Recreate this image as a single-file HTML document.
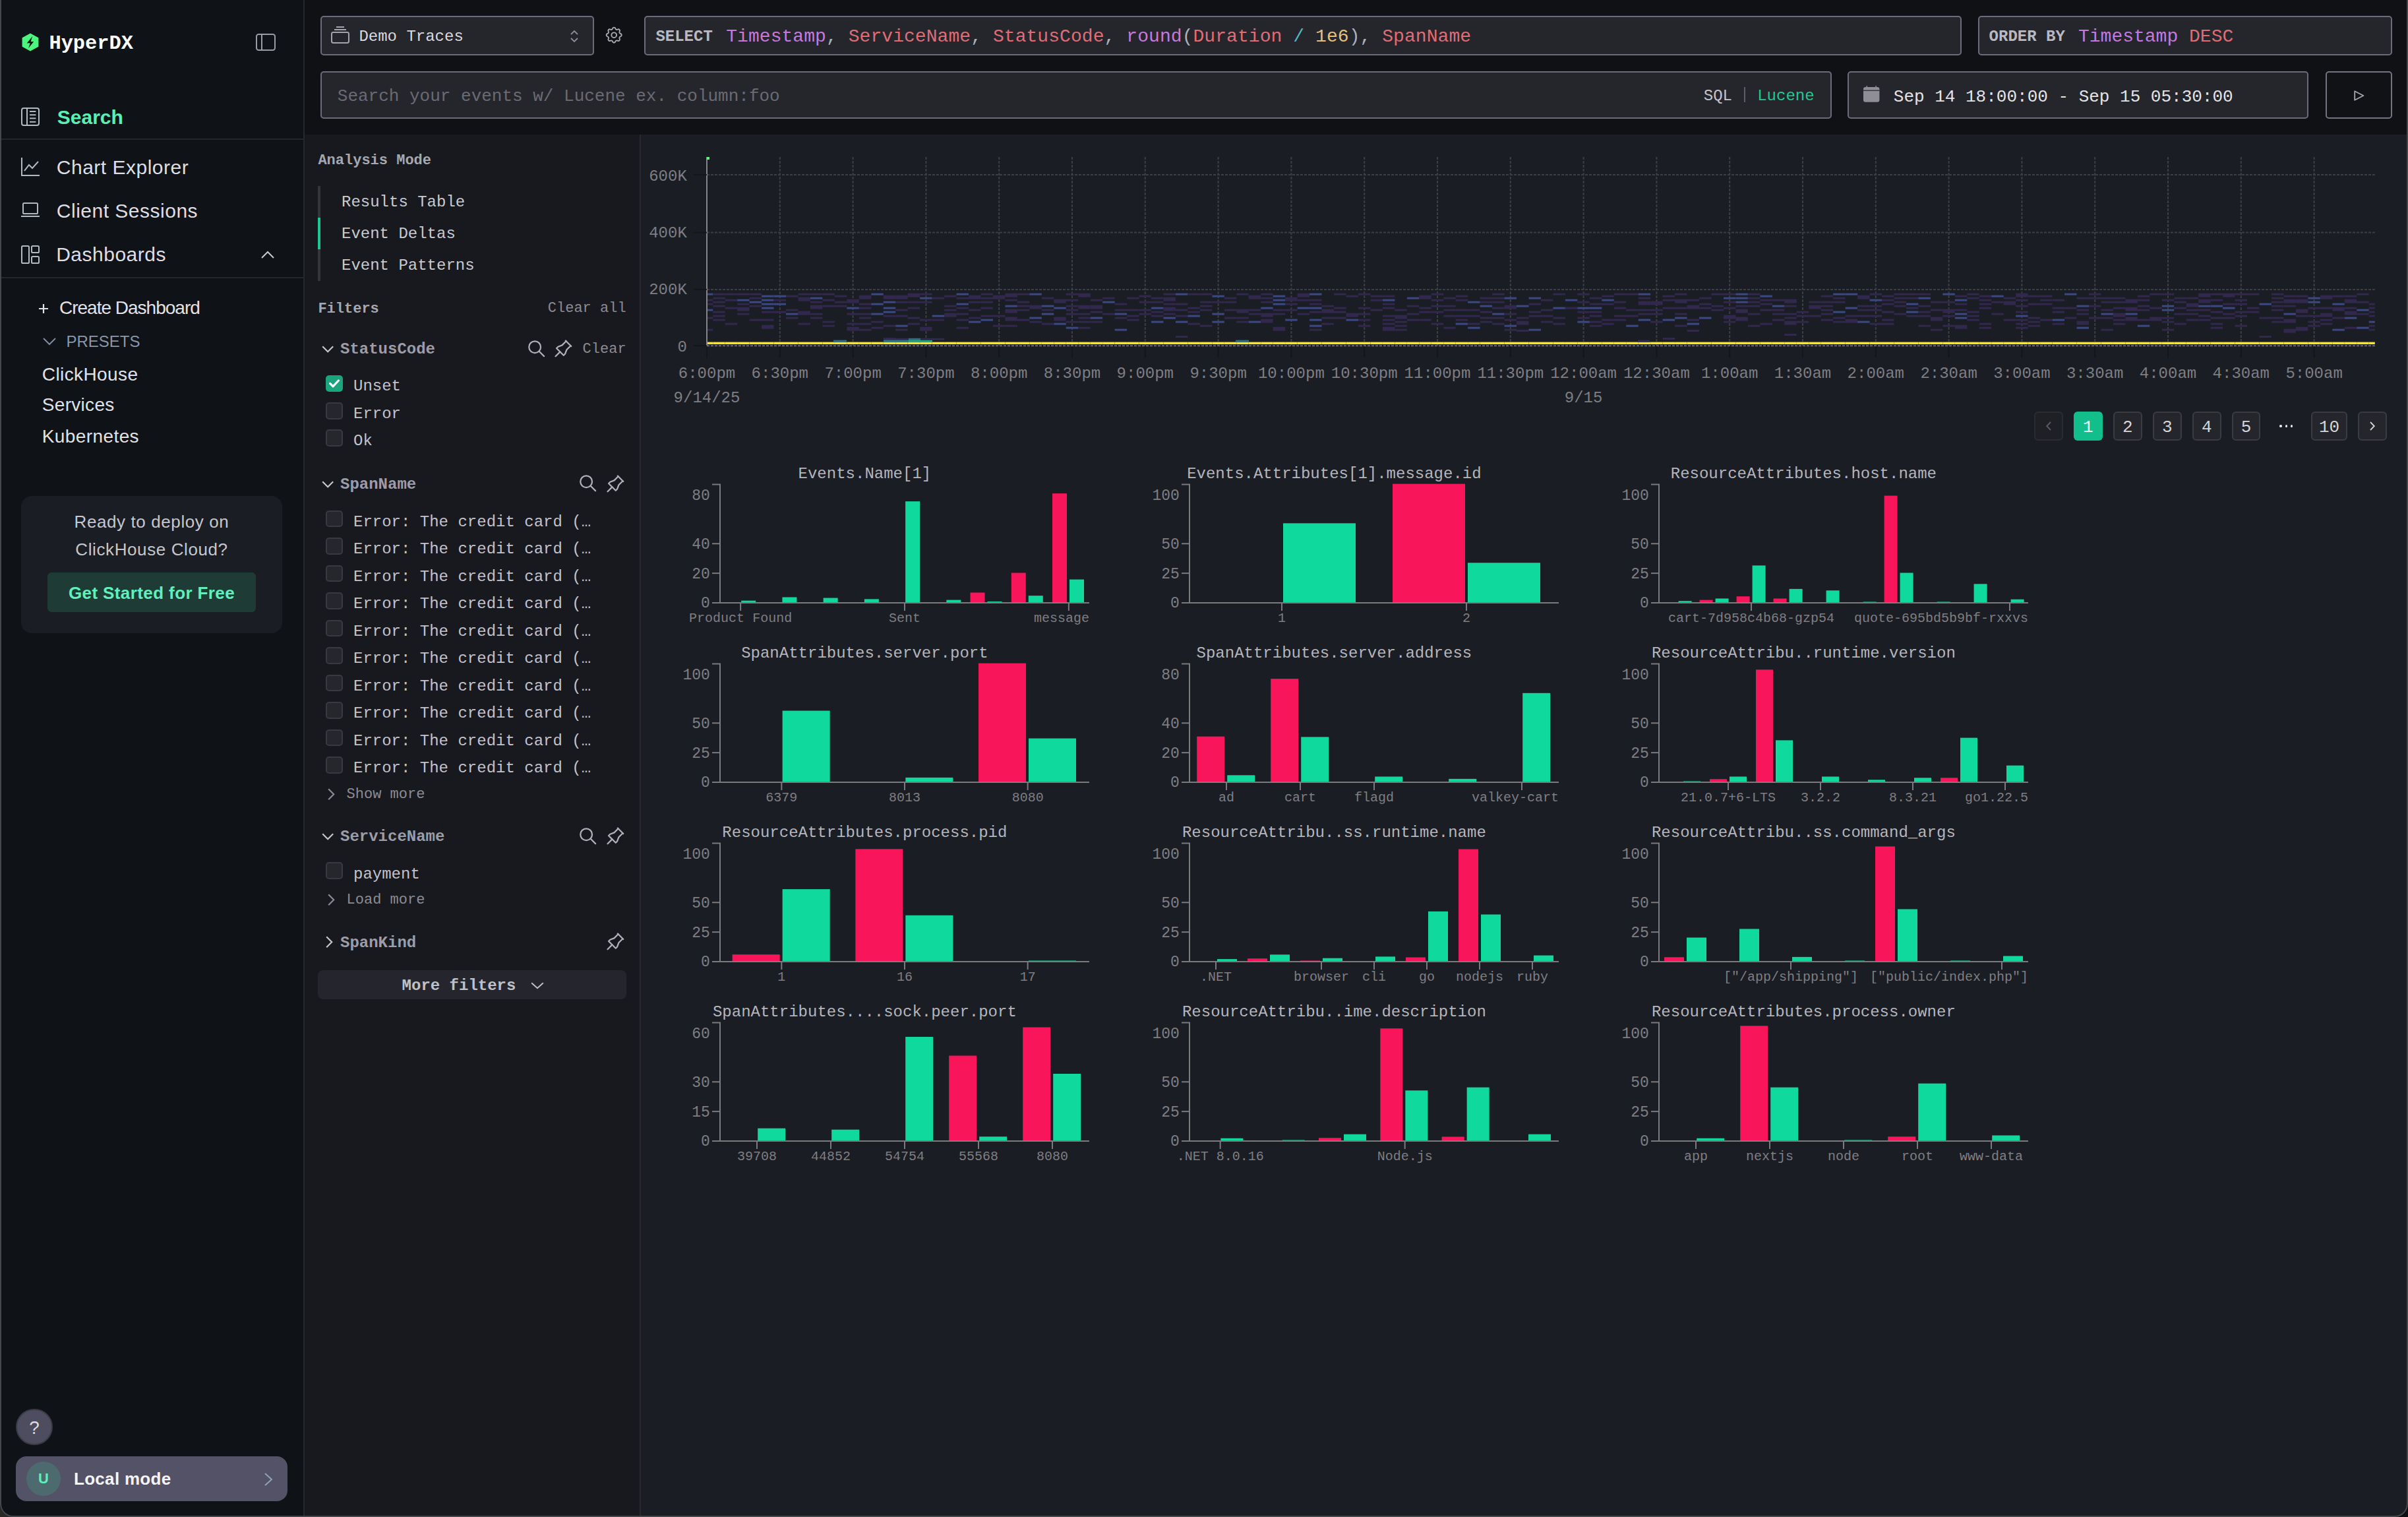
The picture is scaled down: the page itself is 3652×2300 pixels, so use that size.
<!DOCTYPE html>
<html><head><meta charset="utf-8"><title>HyperDX</title>
<style>
html,body{margin:0;padding:0;background:#0d0e11;}
body{overflow:hidden;}
@media (min-width:2400px){#root{zoom:2;}}
#root{position:relative;width:1826px;height:1150px;overflow:hidden;background:linear-gradient(to right,#2a2a25,#0e0f12);}
#win{position:absolute;left:0;top:0;width:1826px;height:1150px;overflow:hidden;border-radius:0 0 10px 10px;background:#1b1d24;}
#frame{position:absolute;left:0;top:-20px;width:1826px;height:1170px;box-sizing:border-box;border:1px solid #45474b;border-radius:10px;pointer-events:none;}
.t{position:absolute;white-space:pre;}
.b{position:absolute;box-sizing:border-box;}
svg.b{overflow:visible;}
</style></head><body><div id="root"><div id="win">

<div class="b" style="left:0.00px;top:0.00px;width:1826.00px;height:102.00px;background:#0f1115;"></div>
<div class="b" style="left:0.00px;top:0.00px;width:231.00px;height:1150.00px;background:#0f1217;"></div>
<div class="b" style="left:230.00px;top:0.00px;width:1.00px;height:1150.00px;background:#25282d;"></div>
<div class="b" style="left:231.00px;top:102.00px;width:254.00px;height:1048.00px;background:#18191e;"></div>
<div class="b" style="left:485.00px;top:102.00px;width:1.00px;height:1048.00px;background:#27292f;"></div>
<svg class="b" style="left:16.50px;top:25.00px;" width="13" height="14" viewBox="0 0 13 14"><path d="M6.5 0.2 L12.7 3.6 L12.7 10.4 L6.5 13.8 L0.3 10.4 L0.3 3.6 Z" fill="#4cf57d"/><path d="M8.1 2.5 L3.9 7.8 L6.4 7.6 L5.1 11.5 L9.1 6.5 L6.8 6.6 Z" fill="#0c0e10"/></svg>
<div class="t" style="top:22.25px;font:700 15.2px/21.28px 'Liberation Mono', monospace;color:#ffffff;left:37.20px;">HyperDX</div>
<svg class="b" style="left:194.00px;top:25.50px;" width="15" height="13" viewBox="0 0 15 13"><rect x="0.5" y="0.5" width="14" height="12" rx="1.6" fill="none" stroke="#9a9ba3" stroke-width="1"/><line x1="4.5" y1="0.5" x2="4.5" y2="12.5" stroke="#9a9ba3" stroke-width="1"/></svg>
<svg class="b" style="left:16.00px;top:81.50px;" width="14" height="14" viewBox="0 0 14 14"><rect x="0.5" y="0.5" width="13" height="13" rx="1.5" fill="none" stroke="#b4b8c3" stroke-width="1"/><line x1="4.5" y1="0.5" x2="4.5" y2="13.5" stroke="#b4b8c3"/><g stroke="#b4b8c3" stroke-width="1"><line x1="6.5" y1="3" x2="11.2" y2="3"/><line x1="6.5" y1="5.6" x2="11.2" y2="5.6"/><line x1="6.5" y1="8.2" x2="11.2" y2="8.2"/><line x1="6.5" y1="10.9" x2="11.2" y2="10.9"/></g></svg>
<div class="t" style="top:78.28px;font:700 15px/21.0px 'Liberation Sans', sans-serif;color:#5af0b5;left:43.40px;">Search</div>
<div class="b" style="left:1.00px;top:105.00px;width:229.00px;height:1.00px;background:#24272c;"></div>
<svg class="b" style="left:16.00px;top:119.50px;" width="14" height="14" viewBox="0 0 14 14"><path d="M0.5 0 V13.5 H14" fill="none" stroke="#b4b8c3" stroke-width="1"/><path d="M2.5 10 L6 5.5 L8.5 8 L13 3" fill="none" stroke="#b4b8c3" stroke-width="1"/></svg>
<div class="t" style="top:116.48px;font:400 15px/21.0px 'Liberation Sans', sans-serif;color:#dedee3;left:42.90px;letter-spacing:0.25px;">Chart Explorer</div>
<svg class="b" style="left:16.00px;top:153.50px;" width="14" height="12" viewBox="0 0 14 12"><rect x="1.5" y="0.5" width="11" height="8" rx="0.8" fill="none" stroke="#b4b8c3"/><line x1="0" y1="10.5" x2="14" y2="10.5" stroke="#b4b8c3"/></svg>
<div class="t" style="top:149.38px;font:400 15px/21.0px 'Liberation Sans', sans-serif;color:#dedee3;left:42.90px;letter-spacing:0.25px;">Client Sessions</div>
<svg class="b" style="left:16.00px;top:186.00px;" width="14" height="14" viewBox="0 0 14 14"><rect x="0.5" y="0.5" width="5.5" height="13" rx="0.8" fill="none" stroke="#b4b8c3"/><rect x="8" y="0.5" width="5.5" height="5" rx="0.8" fill="none" stroke="#b4b8c3"/><rect x="8" y="8.5" width="5.5" height="5" rx="0.8" fill="none" stroke="#b4b8c3"/></svg>
<div class="t" style="top:182.58px;font:400 15px/21.0px 'Liberation Sans', sans-serif;color:#dedee3;left:42.60px;letter-spacing:0.25px;">Dashboards</div>
<svg class="b" style="left:198.00px;top:190.00px;" width="10" height="6" viewBox="0 0 10 6"><path d="M0.5 5.5 L5 1 L9.5 5.5" fill="none" stroke="#c9cad0" stroke-width="1"/></svg>
<div class="b" style="left:1.00px;top:210.00px;width:229.00px;height:1.00px;background:#24272c;"></div>
<svg class="b" style="left:29.50px;top:230.50px;" width="7" height="7" viewBox="0 0 7 7"><path d="M3.5 0 V7 M0 3.5 H7" stroke="#e2e2e6" stroke-width="1.1"/></svg>
<div class="t" style="top:223.67px;font:400 14px/19.6px 'Liberation Sans', sans-serif;color:#e2e2e6;left:45.00px;letter-spacing:-0.5px;">Create Dashboard</div>
<svg class="b" style="left:32.50px;top:256.00px;" width="10" height="6" viewBox="0 0 10 6"><path d="M0.5 0.5 L5 5 L9.5 0.5" fill="none" stroke="#7f8ba0" stroke-width="1"/></svg>
<div class="t" style="top:250.74px;font:400 12px/16.8px 'Liberation Sans', sans-serif;color:#8a96ab;left:50.20px;letter-spacing:0px;">PRESETS</div>
<div class="t" style="top:273.77px;font:400 14px/19.6px 'Liberation Sans', sans-serif;color:#e2e2e6;left:31.90px;letter-spacing:0.2px;">ClickHouse</div>
<div class="t" style="top:297.17px;font:400 14px/19.6px 'Liberation Sans', sans-serif;color:#e2e2e6;left:31.90px;letter-spacing:0.15px;">Services</div>
<div class="t" style="top:320.97px;font:400 14px/19.6px 'Liberation Sans', sans-serif;color:#e2e2e6;left:31.90px;letter-spacing:0.2px;">Kubernetes</div>
<div class="b" style="left:16.00px;top:376.00px;width:198.00px;height:104.00px;background:#1b1d24;border-radius:8px;"></div>
<div class="t" style="top:386.66px;font:400 13px/18.2px 'Liberation Sans', sans-serif;color:#c5c7cf;left:-185.00px;width:600px;text-align:center;letter-spacing:0.3px;">Ready to deploy on</div>
<div class="t" style="top:407.36px;font:400 13px/18.2px 'Liberation Sans', sans-serif;color:#c5c7cf;left:-185.00px;width:600px;text-align:center;letter-spacing:0.3px;">ClickHouse Cloud?</div>
<div class="b" style="left:36.00px;top:434.00px;width:158.00px;height:30.00px;background:#1f3b35;border-radius:3px;"></div>
<div class="t" style="top:440.26px;font:700 13px/18.2px 'Liberation Sans', sans-serif;color:#5ff0bd;left:-185.00px;width:600px;text-align:center;letter-spacing:0.2px;">Get Started for Free</div>
<div class="b" style="left:12.20px;top:1068.00px;width:27.60px;height:27.60px;background:#4e4d60;border:1px solid #3a3a45;border-radius:50%;"></div>
<div class="t" style="top:1072.67px;font:400 14px/19.6px 'Liberation Sans', sans-serif;color:#dcdce6;left:-274.00px;width:600px;text-align:center;">?</div>
<div class="b" style="left:12.00px;top:1104.00px;width:206.00px;height:34.00px;background:#545266;border-radius:8px;"></div>
<div class="b" style="left:20.00px;top:1108.00px;width:26.00px;height:26.00px;background:#4d6a6f;border-radius:50%;"></div>
<div class="t" style="top:1113.43px;font:700 11px/15.4px 'Liberation Sans', sans-serif;color:#5df0bf;left:-267.00px;width:600px;text-align:center;">U</div>
<div class="t" style="top:1112.06px;font:700 13px/18.2px 'Liberation Sans', sans-serif;color:#f4f4f6;left:56.00px;letter-spacing:0.15px;">Local mode</div>
<svg class="b" style="left:200.50px;top:1116.50px;" width="6" height="10" viewBox="0 0 6 10"><path d="M0.5 0.5 L5.5 5 L0.5 9.5" fill="none" stroke="#8fa3b8" stroke-width="1"/></svg>
<div class="b" style="left:243.20px;top:12.20px;width:207.20px;height:29.60px;background:#25262c;border:1px solid #6c6a7b;border-radius:2.5px;"></div>
<svg class="b" style="left:251.00px;top:20.00px;" width="14" height="13" viewBox="0 0 14 13"><rect x="0.5" y="4.5" width="13" height="8" rx="1.2" fill="none" stroke="#a4a4ad"/><line x1="2.5" y1="2.5" x2="11.5" y2="2.5" stroke="#a4a4ad"/><line x1="4" y1="0.5" x2="10" y2="0.5" stroke="#a4a4ad"/></svg>
<div class="t" style="top:19.38px;font:400 12px/16.8px 'Liberation Mono', monospace;color:#d9d9de;left:272.20px;">Demo Traces</div>
<svg class="b" style="left:432.50px;top:23.00px;" width="6" height="9" viewBox="0 0 6 9"><path d="M0.5 3 L3 0.5 L5.5 3 M0.5 6 L3 8.5 L5.5 6" fill="none" stroke="#8d8d96" stroke-width="0.9"/></svg>
<svg class="b" style="left:459.30px;top:20.50px;" width="12.2" height="12.2" viewBox="2.5 2.5 19 19"><path d="M10.325 4.317c.426-1.756 2.924-1.756 3.35 0a1.724 1.724 0 0 0 2.573 1.066c1.543-.94 3.31.826 2.37 2.37a1.724 1.724 0 0 0 1.065 2.572c1.756.426 1.756 2.924 0 3.35a1.724 1.724 0 0 0-1.066 2.573c.94 1.543-.826 3.31-2.37 2.37a1.724 1.724 0 0 0-2.572 1.065c-.426 1.756-2.924 1.756-3.35 0a1.724 1.724 0 0 0-2.573-1.066c-1.543.94-3.31-.826-2.37-2.37a1.724 1.724 0 0 0-1.065-2.572c-1.756-.426-1.756-2.924 0-3.35a1.724 1.724 0 0 0 1.066-2.573c-.94-1.543.826-3.31 2.37-2.37c1 .608 2.296.07 2.572-1.065z" fill="none" stroke="#a9a9b2" stroke-width="1.5"/><circle cx="12" cy="12" r="3" fill="none" stroke="#a9a9b2" stroke-width="1.5"/></svg>
<div class="b" style="left:488.70px;top:12.00px;width:998.90px;height:30.00px;background:#25262c;border:1px solid #6c6a7b;border-radius:2.5px;"></div>
<div class="t" style="top:19.38px;font:700 12px/16.8px 'Liberation Mono', monospace;color:#b9b9c1;left:497.20px;">SELECT</div>
<div class="t" style="top:18.11px;font:400 14px/19.6px 'Liberation Mono', monospace;color:#abb2bf;left:550.60px;letter-spacing:0.03px;"><span style="color:#c678dd">Timestamp</span><span style="color:#abb2bf">, </span><span style="color:#e06c75">ServiceName</span><span style="color:#abb2bf">, </span><span style="color:#e06c75">StatusCode</span><span style="color:#abb2bf">, </span><span style="color:#c678dd">round</span><span style="color:#abb2bf">(</span><span style="color:#e06c75">Duration</span><span style="color:#abb2bf"> </span><span style="color:#56b6c2">/</span><span style="color:#abb2bf"> </span><span style="color:#e5c07b">1e6</span><span style="color:#abb2bf">)</span><span style="color:#abb2bf">, </span><span style="color:#e06c75">SpanName</span></div>
<div class="b" style="left:1500.20px;top:12.00px;width:313.70px;height:30.00px;background:#25262c;border:1px solid #6c6a7b;border-radius:2.5px;"></div>
<div class="t" style="top:19.38px;font:700 12px/16.8px 'Liberation Mono', monospace;color:#b9b9c1;left:1508.30px;">ORDER BY</div>
<div class="t" style="top:18.11px;font:400 14px/19.6px 'Liberation Mono', monospace;color:#abb2bf;left:1576.00px;"><span style="color:#c678dd">Timestamp</span> <span style="color:#e06c75">DESC</span></div>
<div class="b" style="left:243.20px;top:54.20px;width:1145.60px;height:35.60px;background:#25262c;border:1px solid #6c6a7b;border-radius:2.5px;"></div>
<div class="t" style="top:64.05px;font:400 13px/18.2px 'Liberation Mono', monospace;color:#6a6a74;left:255.90px;">Search your events w/ Lucene ex. column:foo</div>
<div class="t" style="top:64.38px;font:400 12px/16.8px 'Liberation Mono', monospace;color:#c4c4cb;left:1291.90px;">SQL</div>
<div class="b" style="left:1322.60px;top:66.20px;width:1.00px;height:11.40px;background:#5d5d66;"></div>
<div class="t" style="top:64.38px;font:400 12px/16.8px 'Liberation Mono', monospace;color:#1fc993;left:1332.60px;">Lucene</div>
<div class="b" style="left:1401.20px;top:54.20px;width:349.50px;height:35.60px;background:#25262c;border:1px solid #6c6a7b;border-radius:2.5px;"></div>
<svg class="b" style="left:1412.90px;top:65.20px;" width="12.2" height="12.4" viewBox="0 0 12.2 12.4"><rect x="0" y="1" width="12.2" height="11.4" rx="1.6" fill="#8f8e97"/><rect x="2.3" y="0" width="0.7" height="1.6" fill="#8f8e97"/><rect x="9.2" y="0" width="0.7" height="1.6" fill="#8f8e97"/><rect x="0" y="3.3" width="12.2" height="0.6" fill="#25262c"/></svg>
<div class="t" style="top:64.25px;font:400 13px/18.2px 'Liberation Mono', monospace;color:#e4e4e8;left:1435.90px;">Sep 14 18:00:00 - Sep 15 05:30:00</div>
<div class="b" style="left:1763.40px;top:54.20px;width:50.50px;height:35.60px;background:#101216;border:1px solid #75737f;border-radius:2.5px;"></div>
<svg class="b" style="left:1784.80px;top:68.60px;" width="8" height="8" viewBox="0 0 8 8"><path d="M0.6 0.6 L7.2 4 L0.6 7.4 Z" fill="none" stroke="#a6a6ae" stroke-width="0.9" stroke-linejoin="round"/></svg>
<div class="t" style="top:114.42px;font:700 11px/15.4px 'Liberation Mono', monospace;color:#a7a7af;left:241.20px;">Analysis Mode</div>
<div class="b" style="left:241.20px;top:141.00px;width:1.90px;height:72.00px;background:#35363c;"></div>
<div class="b" style="left:241.20px;top:165.00px;width:1.90px;height:24.00px;background:#1bc891;"></div>
<div class="t" style="top:145.18px;font:400 12px/16.8px 'Liberation Mono', monospace;color:#c9c9d0;left:259.00px;">Results Table</div>
<div class="t" style="top:169.18px;font:400 12px/16.8px 'Liberation Mono', monospace;color:#c9c9d0;left:259.00px;">Event Deltas</div>
<div class="t" style="top:193.18px;font:400 12px/16.8px 'Liberation Mono', monospace;color:#c9c9d0;left:259.00px;">Event Patterns</div>
<div class="t" style="top:227.02px;font:700 11px/15.4px 'Liberation Mono', monospace;color:#a7a7af;left:241.20px;">Filters</div>
<div class="t" style="top:226.32px;font:400 11px/15.4px 'Liberation Mono', monospace;color:#8c8b94;right:1351.20px;">Clear all</div>
<svg class="b" style="left:243.80px;top:261.90px;" width="9.2" height="5.4" viewBox="0 0 9.2 5.4"><path d="M0.6 0.6 L4.6 4.6 L8.6 0.6" fill="none" stroke="#c7c7ce" stroke-width="1.1"/></svg>
<div class="t" style="top:256.68px;font:700 12px/16.8px 'Liberation Mono', monospace;color:#9d9ca9;left:258.00px;">StatusCode</div>
<svg class="b" style="left:400.60px;top:257.80px;" width="12.7" height="12.7" viewBox="2 2 20 20"><circle cx="10" cy="10" r="7" fill="none" stroke="#b0b0b8" stroke-width="1.75"/><path d="M21 21 L15 15" stroke="#b0b0b8" stroke-width="1.75" stroke-linecap="round"/></svg>
<svg class="b" style="left:420.70px;top:257.40px;" width="13.4" height="13.4" viewBox="3.5 3 17.5 17.5"><g fill="none" stroke="#b0b0b8" stroke-width="1.5" stroke-linecap="round" stroke-linejoin="round"><path d="M15 4.5l-4 4l-4 1.5l-1.5 1.5l7 7l1.5 -1.5l1.5 -4l4 -4"/><path d="M9 15l-4.5 4.5"/><path d="M14.5 4l5.5 5.5"/></g></svg>
<div class="t" style="top:257.31px;font:400 11px/15.4px 'Liberation Mono', monospace;color:#8c8b94;right:1351.20px;">Clear</div>
<div class="b" style="left:247.20px;top:284.30px;width:12.80px;height:12.80px;background:#1aa57c;border-radius:2.5px;"></div>
<svg class="b" style="left:249.60px;top:287.50px;" width="8" height="6.4" viewBox="0 0 8 6.4"><path d="M0.8 3.2 L3.0 5.4 L7.2 1.0" fill="none" stroke="#ffffff" stroke-width="1.6" stroke-linecap="round" stroke-linejoin="round"/></svg>
<div class="t" style="top:284.68px;font:400 12px/16.8px 'Liberation Mono', monospace;color:#c3c2cc;left:268.00px;">Unset</div>
<div class="b" style="left:247.20px;top:305.00px;width:12.80px;height:12.80px;background:#26272d;border:1px solid #393a41;border-radius:2.5px;"></div>
<div class="t" style="top:305.38px;font:400 12px/16.8px 'Liberation Mono', monospace;color:#c3c2cc;left:268.00px;">Error</div>
<div class="b" style="left:247.20px;top:325.70px;width:12.80px;height:12.80px;background:#26272d;border:1px solid #393a41;border-radius:2.5px;"></div>
<div class="t" style="top:326.08px;font:400 12px/16.8px 'Liberation Mono', monospace;color:#c3c2cc;left:268.00px;">Ok</div>
<svg class="b" style="left:243.80px;top:364.30px;" width="9.2" height="5.4" viewBox="0 0 9.2 5.4"><path d="M0.6 0.6 L4.6 4.6 L8.6 0.6" fill="none" stroke="#c7c7ce" stroke-width="1.1"/></svg>
<div class="t" style="top:359.08px;font:700 12px/16.8px 'Liberation Mono', monospace;color:#9d9ca9;left:258.00px;">SpanName</div>
<svg class="b" style="left:439.60px;top:360.20px;" width="12.7" height="12.7" viewBox="2 2 20 20"><circle cx="10" cy="10" r="7" fill="none" stroke="#b0b0b8" stroke-width="1.75"/><path d="M21 21 L15 15" stroke="#b0b0b8" stroke-width="1.75" stroke-linecap="round"/></svg>
<svg class="b" style="left:459.80px;top:359.80px;" width="13.4" height="13.4" viewBox="3.5 3 17.5 17.5"><g fill="none" stroke="#b0b0b8" stroke-width="1.5" stroke-linecap="round" stroke-linejoin="round"><path d="M15 4.5l-4 4l-4 1.5l-1.5 1.5l7 7l1.5 -1.5l1.5 -4l4 -4"/><path d="M9 15l-4.5 4.5"/><path d="M14.5 4l5.5 5.5"/></g></svg>
<div class="b" style="left:247.20px;top:386.80px;width:12.80px;height:12.80px;background:#26272d;border:1px solid #393a41;border-radius:2.5px;"></div>
<div class="t" style="top:387.48px;font:400 12px/16.8px 'Liberation Mono', monospace;color:#c3c2cc;left:268.00px;">Error: The credit card (…</div>
<div class="b" style="left:247.20px;top:407.55px;width:12.80px;height:12.80px;background:#26272d;border:1px solid #393a41;border-radius:2.5px;"></div>
<div class="t" style="top:408.23px;font:400 12px/16.8px 'Liberation Mono', monospace;color:#c3c2cc;left:268.00px;">Error: The credit card (…</div>
<div class="b" style="left:247.20px;top:428.30px;width:12.80px;height:12.80px;background:#26272d;border:1px solid #393a41;border-radius:2.5px;"></div>
<div class="t" style="top:428.98px;font:400 12px/16.8px 'Liberation Mono', monospace;color:#c3c2cc;left:268.00px;">Error: The credit card (…</div>
<div class="b" style="left:247.20px;top:449.05px;width:12.80px;height:12.80px;background:#26272d;border:1px solid #393a41;border-radius:2.5px;"></div>
<div class="t" style="top:449.73px;font:400 12px/16.8px 'Liberation Mono', monospace;color:#c3c2cc;left:268.00px;">Error: The credit card (…</div>
<div class="b" style="left:247.20px;top:469.80px;width:12.80px;height:12.80px;background:#26272d;border:1px solid #393a41;border-radius:2.5px;"></div>
<div class="t" style="top:470.48px;font:400 12px/16.8px 'Liberation Mono', monospace;color:#c3c2cc;left:268.00px;">Error: The credit card (…</div>
<div class="b" style="left:247.20px;top:490.55px;width:12.80px;height:12.80px;background:#26272d;border:1px solid #393a41;border-radius:2.5px;"></div>
<div class="t" style="top:491.23px;font:400 12px/16.8px 'Liberation Mono', monospace;color:#c3c2cc;left:268.00px;">Error: The credit card (…</div>
<div class="b" style="left:247.20px;top:511.30px;width:12.80px;height:12.80px;background:#26272d;border:1px solid #393a41;border-radius:2.5px;"></div>
<div class="t" style="top:511.98px;font:400 12px/16.8px 'Liberation Mono', monospace;color:#c3c2cc;left:268.00px;">Error: The credit card (…</div>
<div class="b" style="left:247.20px;top:532.05px;width:12.80px;height:12.80px;background:#26272d;border:1px solid #393a41;border-radius:2.5px;"></div>
<div class="t" style="top:532.73px;font:400 12px/16.8px 'Liberation Mono', monospace;color:#c3c2cc;left:268.00px;">Error: The credit card (…</div>
<div class="b" style="left:247.20px;top:552.80px;width:12.80px;height:12.80px;background:#26272d;border:1px solid #393a41;border-radius:2.5px;"></div>
<div class="t" style="top:553.48px;font:400 12px/16.8px 'Liberation Mono', monospace;color:#c3c2cc;left:268.00px;">Error: The credit card (…</div>
<div class="b" style="left:247.20px;top:573.55px;width:12.80px;height:12.80px;background:#26272d;border:1px solid #393a41;border-radius:2.5px;"></div>
<div class="t" style="top:574.23px;font:400 12px/16.8px 'Liberation Mono', monospace;color:#c3c2cc;left:268.00px;">Error: The credit card (…</div>
<svg class="b" style="left:248.60px;top:597.40px;" width="5.2" height="9.2" viewBox="0 0 5.2 9.2"><path d="M0.6 0.6 L4.6 4.6 L0.6 8.6" fill="none" stroke="#8b8b93" stroke-width="1.1"/></svg>
<div class="t" style="top:595.01px;font:400 11px/15.4px 'Liberation Mono', monospace;color:#8b8b93;left:262.80px;">Show more</div>
<svg class="b" style="left:243.80px;top:631.40px;" width="9.2" height="5.4" viewBox="0 0 9.2 5.4"><path d="M0.6 0.6 L4.6 4.6 L8.6 0.6" fill="none" stroke="#c7c7ce" stroke-width="1.1"/></svg>
<div class="t" style="top:626.18px;font:700 12px/16.8px 'Liberation Mono', monospace;color:#9d9ca9;left:258.00px;">ServiceName</div>
<svg class="b" style="left:439.60px;top:627.30px;" width="12.7" height="12.7" viewBox="2 2 20 20"><circle cx="10" cy="10" r="7" fill="none" stroke="#b0b0b8" stroke-width="1.75"/><path d="M21 21 L15 15" stroke="#b0b0b8" stroke-width="1.75" stroke-linecap="round"/></svg>
<svg class="b" style="left:459.80px;top:626.90px;" width="13.4" height="13.4" viewBox="3.5 3 17.5 17.5"><g fill="none" stroke="#b0b0b8" stroke-width="1.5" stroke-linecap="round" stroke-linejoin="round"><path d="M15 4.5l-4 4l-4 1.5l-1.5 1.5l7 7l1.5 -1.5l1.5 -4l4 -4"/><path d="M9 15l-4.5 4.5"/><path d="M14.5 4l5.5 5.5"/></g></svg>
<div class="b" style="left:247.20px;top:653.60px;width:12.80px;height:12.80px;background:#26272d;border:1px solid #393a41;border-radius:2.5px;"></div>
<div class="t" style="top:654.28px;font:400 12px/16.8px 'Liberation Mono', monospace;color:#c3c2cc;left:268.00px;">payment</div>
<svg class="b" style="left:248.60px;top:677.40px;" width="5.2" height="9.2" viewBox="0 0 5.2 9.2"><path d="M0.6 0.6 L4.6 4.6 L0.6 8.6" fill="none" stroke="#8b8b93" stroke-width="1.1"/></svg>
<div class="t" style="top:675.01px;font:400 11px/15.4px 'Liberation Mono', monospace;color:#8b8b93;left:262.80px;">Load more</div>
<svg class="b" style="left:246.90px;top:709.60px;" width="5.4" height="9.2" viewBox="0 0 5.4 9.2"><path d="M0.6 0.6 L4.6 4.6 L0.6 8.6" fill="none" stroke="#c7c7ce" stroke-width="1.1"/></svg>
<div class="t" style="top:706.38px;font:700 12px/16.8px 'Liberation Mono', monospace;color:#9d9ca9;left:258.00px;">SpanKind</div>
<svg class="b" style="left:459.80px;top:707.10px;" width="13.4" height="13.4" viewBox="3.5 3 17.5 17.5"><g fill="none" stroke="#b0b0b8" stroke-width="1.5" stroke-linecap="round" stroke-linejoin="round"><path d="M15 4.5l-4 4l-4 1.5l-1.5 1.5l7 7l1.5 -1.5l1.5 -4l4 -4"/><path d="M9 15l-4.5 4.5"/><path d="M14.5 4l5.5 5.5"/></g></svg>
<div class="b" style="left:241.00px;top:735.70px;width:234.10px;height:21.60px;background:#25262d;border-radius:4px;"></div>
<div class="t" style="top:738.88px;font:700 12px/16.8px 'Liberation Mono', monospace;color:#c0c0c8;left:304.80px;">More filters</div>
<svg class="b" style="left:402.60px;top:744.40px;" width="10" height="5.2" viewBox="0 0 10 5.2"><path d="M0.6 0.6 L5 4.6 L9.4 0.6" fill="none" stroke="#c0c0c8" stroke-width="1"/></svg>
<svg class="b" style="left:0;top:0" width="1826" height="320"><line x1="536.0" y1="132.5" x2="1800.9" y2="132.5" stroke="#3c3e46" stroke-width="1" stroke-dasharray="2 1"/><line x1="536.0" y1="176.3" x2="1800.9" y2="176.3" stroke="#3c3e46" stroke-width="1" stroke-dasharray="2 1"/><line x1="536.0" y1="219.45" x2="1800.9" y2="219.45" stroke="#3c3e46" stroke-width="1" stroke-dasharray="2 1"/><line x1="591.40" y1="119.0" x2="591.40" y2="262.1" stroke="#3c3e46" stroke-width="1" stroke-dasharray="2 1"/><line x1="646.80" y1="119.0" x2="646.80" y2="262.1" stroke="#3c3e46" stroke-width="1" stroke-dasharray="2 1"/><line x1="702.20" y1="119.0" x2="702.20" y2="262.1" stroke="#3c3e46" stroke-width="1" stroke-dasharray="2 1"/><line x1="757.60" y1="119.0" x2="757.60" y2="262.1" stroke="#3c3e46" stroke-width="1" stroke-dasharray="2 1"/><line x1="813.00" y1="119.0" x2="813.00" y2="262.1" stroke="#3c3e46" stroke-width="1" stroke-dasharray="2 1"/><line x1="868.40" y1="119.0" x2="868.40" y2="262.1" stroke="#3c3e46" stroke-width="1" stroke-dasharray="2 1"/><line x1="923.80" y1="119.0" x2="923.80" y2="262.1" stroke="#3c3e46" stroke-width="1" stroke-dasharray="2 1"/><line x1="979.20" y1="119.0" x2="979.20" y2="262.1" stroke="#3c3e46" stroke-width="1" stroke-dasharray="2 1"/><line x1="1034.60" y1="119.0" x2="1034.60" y2="262.1" stroke="#3c3e46" stroke-width="1" stroke-dasharray="2 1"/><line x1="1090.00" y1="119.0" x2="1090.00" y2="262.1" stroke="#3c3e46" stroke-width="1" stroke-dasharray="2 1"/><line x1="1145.40" y1="119.0" x2="1145.40" y2="262.1" stroke="#3c3e46" stroke-width="1" stroke-dasharray="2 1"/><line x1="1200.80" y1="119.0" x2="1200.80" y2="262.1" stroke="#3c3e46" stroke-width="1" stroke-dasharray="2 1"/><line x1="1256.20" y1="119.0" x2="1256.20" y2="262.1" stroke="#3c3e46" stroke-width="1" stroke-dasharray="2 1"/><line x1="1311.60" y1="119.0" x2="1311.60" y2="262.1" stroke="#3c3e46" stroke-width="1" stroke-dasharray="2 1"/><line x1="1367.00" y1="119.0" x2="1367.00" y2="262.1" stroke="#3c3e46" stroke-width="1" stroke-dasharray="2 1"/><line x1="1422.40" y1="119.0" x2="1422.40" y2="262.1" stroke="#3c3e46" stroke-width="1" stroke-dasharray="2 1"/><line x1="1477.80" y1="119.0" x2="1477.80" y2="262.1" stroke="#3c3e46" stroke-width="1" stroke-dasharray="2 1"/><line x1="1533.20" y1="119.0" x2="1533.20" y2="262.1" stroke="#3c3e46" stroke-width="1" stroke-dasharray="2 1"/><line x1="1588.60" y1="119.0" x2="1588.60" y2="262.1" stroke="#3c3e46" stroke-width="1" stroke-dasharray="2 1"/><line x1="1644.00" y1="119.0" x2="1644.00" y2="262.1" stroke="#3c3e46" stroke-width="1" stroke-dasharray="2 1"/><line x1="1699.40" y1="119.0" x2="1699.40" y2="262.1" stroke="#3c3e46" stroke-width="1" stroke-dasharray="2 1"/><line x1="1754.80" y1="119.0" x2="1754.80" y2="262.1" stroke="#3c3e46" stroke-width="1" stroke-dasharray="2 1"/><rect x="536.00" y="222.30" width="4.62" height="1.5" fill="#3a4884"/><rect x="536.00" y="226.80" width="4.62" height="1.5" fill="#32274c"/><rect x="536.00" y="229.80" width="4.62" height="1.5" fill="#32274c"/><rect x="536.00" y="234.30" width="4.62" height="1.5" fill="#3a4884"/><rect x="536.00" y="240.30" width="4.62" height="1.5" fill="#32274c"/><rect x="536.00" y="249.30" width="4.62" height="1.5" fill="#32274c"/><rect x="536.00" y="259.3" width="4.62" height="1.7" fill="#fde725"/><rect x="540.62" y="222.30" width="9.23" height="1.5" fill="#32274c"/><rect x="540.62" y="225.30" width="9.23" height="1.5" fill="#32274c"/><rect x="540.62" y="228.30" width="9.23" height="1.5" fill="#32274c"/><rect x="540.62" y="231.30" width="9.23" height="1.5" fill="#32274c"/><rect x="540.62" y="235.80" width="9.23" height="1.5" fill="#32274c"/><rect x="540.62" y="238.80" width="9.23" height="1.5" fill="#32274c"/><rect x="540.62" y="241.80" width="9.23" height="1.5" fill="#32274c"/><rect x="540.62" y="259.3" width="9.23" height="1.7" fill="#fde725"/><rect x="549.85" y="222.30" width="9.23" height="1.5" fill="#32274c"/><rect x="549.85" y="226.80" width="9.23" height="1.5" fill="#32274c"/><rect x="549.85" y="232.80" width="9.23" height="1.5" fill="#32274c"/><rect x="549.85" y="244.80" width="9.23" height="1.5" fill="#32274c"/><rect x="549.85" y="259.3" width="9.23" height="1.7" fill="#fde725"/><rect x="559.08" y="222.30" width="9.23" height="1.5" fill="#32274c"/><rect x="559.08" y="226.80" width="9.23" height="1.5" fill="#3a4884"/><rect x="559.08" y="229.80" width="9.23" height="1.5" fill="#32274c"/><rect x="559.08" y="232.80" width="9.23" height="3.0" fill="#32274c"/><rect x="559.08" y="237.30" width="9.23" height="1.5" fill="#32274c"/><rect x="559.08" y="259.3" width="9.23" height="1.7" fill="#fde725"/><rect x="568.32" y="222.30" width="9.23" height="1.5" fill="#32274c"/><rect x="568.32" y="225.30" width="9.23" height="1.5" fill="#32274c"/><rect x="568.32" y="228.30" width="9.23" height="1.5" fill="#3a4884"/><rect x="568.32" y="231.30" width="9.23" height="1.5" fill="#32274c"/><rect x="568.32" y="241.80" width="9.23" height="1.5" fill="#32274c"/><rect x="568.32" y="259.3" width="9.23" height="1.7" fill="#fde725"/><rect x="577.55" y="223.80" width="9.23" height="1.5" fill="#3a4884"/><rect x="577.55" y="226.80" width="9.23" height="1.5" fill="#3a4884"/><rect x="577.55" y="229.80" width="9.23" height="1.5" fill="#3a4884"/><rect x="577.55" y="232.80" width="9.23" height="1.5" fill="#3a4884"/><rect x="577.55" y="235.80" width="9.23" height="1.5" fill="#32274c"/><rect x="577.55" y="241.80" width="9.23" height="1.5" fill="#32274c"/><rect x="577.55" y="246.30" width="9.23" height="3.0" fill="#32274c"/><rect x="577.55" y="259.3" width="9.23" height="1.7" fill="#fde725"/><rect x="586.78" y="223.80" width="9.23" height="1.5" fill="#3a4884"/><rect x="586.78" y="226.80" width="9.23" height="1.5" fill="#32274c"/><rect x="586.78" y="229.80" width="9.23" height="1.5" fill="#3a4884"/><rect x="586.78" y="235.80" width="9.23" height="1.5" fill="#32274c"/><rect x="586.78" y="259.3" width="9.23" height="1.7" fill="#fde725"/><rect x="596.02" y="223.80" width="9.23" height="1.5" fill="#32274c"/><rect x="596.02" y="234.30" width="9.23" height="1.5" fill="#32274c"/><rect x="596.02" y="237.30" width="9.23" height="1.5" fill="#3a4884"/><rect x="596.02" y="240.30" width="9.23" height="1.5" fill="#32274c"/><rect x="596.02" y="259.3" width="9.23" height="1.7" fill="#fde725"/><rect x="605.25" y="222.30" width="9.23" height="1.5" fill="#32274c"/><rect x="605.25" y="225.30" width="9.23" height="3.0" fill="#32274c"/><rect x="605.25" y="235.80" width="9.23" height="3.0" fill="#32274c"/><rect x="605.25" y="244.80" width="9.23" height="1.5" fill="#32274c"/><rect x="605.25" y="259.3" width="9.23" height="1.7" fill="#fde725"/><rect x="614.48" y="222.30" width="9.23" height="1.5" fill="#32274c"/><rect x="614.48" y="225.30" width="9.23" height="1.5" fill="#3a4884"/><rect x="614.48" y="228.30" width="9.23" height="1.5" fill="#32274c"/><rect x="614.48" y="231.30" width="9.23" height="3.0" fill="#32274c"/><rect x="614.48" y="237.30" width="9.23" height="1.5" fill="#32274c"/><rect x="614.48" y="240.30" width="9.23" height="1.5" fill="#32274c"/><rect x="614.48" y="259.3" width="9.23" height="1.7" fill="#fde725"/><rect x="623.72" y="222.30" width="9.23" height="1.5" fill="#32274c"/><rect x="623.72" y="226.80" width="9.23" height="1.5" fill="#32274c"/><rect x="623.72" y="231.30" width="9.23" height="1.5" fill="#32274c"/><rect x="623.72" y="243.30" width="9.23" height="1.5" fill="#32274c"/><rect x="623.72" y="246.30" width="9.23" height="1.5" fill="#32274c"/><rect x="623.72" y="259.3" width="9.23" height="1.7" fill="#fde725"/><rect x="632.95" y="223.80" width="9.23" height="1.5" fill="#32274c"/><rect x="632.95" y="228.30" width="9.23" height="1.5" fill="#32274c"/><rect x="632.95" y="231.30" width="9.23" height="1.5" fill="#32274c"/><rect x="632.95" y="259.3" width="9.23" height="1.7" fill="#fde725"/><rect x="642.18" y="226.80" width="9.23" height="3.0" fill="#32274c"/><rect x="642.18" y="232.80" width="9.23" height="1.5" fill="#3a4884"/><rect x="642.18" y="237.30" width="9.23" height="1.5" fill="#32274c"/><rect x="642.18" y="244.80" width="9.23" height="1.5" fill="#32274c"/><rect x="642.18" y="247.80" width="9.23" height="3.0" fill="#32274c"/><rect x="642.18" y="259.3" width="9.23" height="1.7" fill="#fde725"/><rect x="651.42" y="223.80" width="9.23" height="3.0" fill="#32274c"/><rect x="651.42" y="229.80" width="9.23" height="1.5" fill="#32274c"/><rect x="651.42" y="232.80" width="9.23" height="1.5" fill="#32274c"/><rect x="651.42" y="237.30" width="9.23" height="1.5" fill="#32274c"/><rect x="651.42" y="240.30" width="9.23" height="1.5" fill="#32274c"/><rect x="651.42" y="244.80" width="9.23" height="1.5" fill="#32274c"/><rect x="651.42" y="249.30" width="9.23" height="1.5" fill="#32274c"/><rect x="651.42" y="259.3" width="9.23" height="1.7" fill="#fde725"/><rect x="660.65" y="222.30" width="9.23" height="1.5" fill="#3a4884"/><rect x="660.65" y="229.80" width="9.23" height="1.5" fill="#3a4884"/><rect x="660.65" y="237.30" width="9.23" height="1.5" fill="#3a4884"/><rect x="660.65" y="243.30" width="9.23" height="1.5" fill="#32274c"/><rect x="660.65" y="247.80" width="9.23" height="1.5" fill="#32274c"/><rect x="660.65" y="259.3" width="9.23" height="1.7" fill="#fde725"/><rect x="669.88" y="223.80" width="9.23" height="3.0" fill="#32274c"/><rect x="669.88" y="228.30" width="9.23" height="1.5" fill="#3a4884"/><rect x="669.88" y="232.80" width="9.23" height="1.5" fill="#3a4884"/><rect x="669.88" y="235.80" width="9.23" height="1.5" fill="#3a4884"/><rect x="669.88" y="238.80" width="9.23" height="1.5" fill="#32274c"/><rect x="669.88" y="246.30" width="9.23" height="1.5" fill="#32274c"/><rect x="669.88" y="256.00" width="9.23" height="1.5" fill="#32274c"/><rect x="669.88" y="259.3" width="9.23" height="1.7" fill="#fde725"/><rect x="679.12" y="223.80" width="9.23" height="3.0" fill="#32274c"/><rect x="679.12" y="228.30" width="9.23" height="1.5" fill="#32274c"/><rect x="679.12" y="234.30" width="9.23" height="1.5" fill="#32274c"/><rect x="679.12" y="238.80" width="9.23" height="1.5" fill="#32274c"/><rect x="679.12" y="246.30" width="9.23" height="1.5" fill="#3a4884"/><rect x="679.12" y="249.30" width="9.23" height="1.5" fill="#32274c"/><rect x="679.12" y="259.3" width="9.23" height="1.7" fill="#fde725"/><rect x="688.35" y="222.30" width="9.23" height="3.0" fill="#32274c"/><rect x="688.35" y="228.30" width="9.23" height="1.5" fill="#32274c"/><rect x="688.35" y="232.80" width="9.23" height="1.5" fill="#32274c"/><rect x="688.35" y="240.30" width="9.23" height="1.5" fill="#32274c"/><rect x="688.35" y="244.80" width="9.23" height="1.5" fill="#32274c"/><rect x="688.35" y="259.3" width="9.23" height="1.7" fill="#fde725"/><rect x="697.58" y="222.30" width="9.23" height="1.5" fill="#32274c"/><rect x="697.58" y="225.30" width="9.23" height="1.5" fill="#3a4884"/><rect x="697.58" y="228.30" width="9.23" height="1.5" fill="#32274c"/><rect x="697.58" y="241.80" width="9.23" height="1.5" fill="#32274c"/><rect x="697.58" y="247.80" width="9.23" height="3.0" fill="#32274c"/><rect x="697.58" y="259.3" width="9.23" height="1.7" fill="#fde725"/><rect x="706.82" y="225.30" width="9.23" height="1.5" fill="#32274c"/><rect x="706.82" y="238.80" width="9.23" height="1.5" fill="#3a4884"/><rect x="706.82" y="241.80" width="9.23" height="1.5" fill="#32274c"/><rect x="706.82" y="259.3" width="9.23" height="1.7" fill="#fde725"/><rect x="716.05" y="223.80" width="9.23" height="1.5" fill="#32274c"/><rect x="716.05" y="231.30" width="9.23" height="1.5" fill="#32274c"/><rect x="716.05" y="234.30" width="9.23" height="1.5" fill="#32274c"/><rect x="716.05" y="237.30" width="9.23" height="3.0" fill="#32274c"/><rect x="716.05" y="259.3" width="9.23" height="1.7" fill="#fde725"/><rect x="725.28" y="222.30" width="9.23" height="1.5" fill="#3a4884"/><rect x="725.28" y="225.30" width="9.23" height="1.5" fill="#32274c"/><rect x="725.28" y="229.80" width="9.23" height="1.5" fill="#3a4884"/><rect x="725.28" y="232.80" width="9.23" height="1.5" fill="#32274c"/><rect x="725.28" y="237.30" width="9.23" height="1.5" fill="#32274c"/><rect x="725.28" y="241.80" width="9.23" height="1.5" fill="#32274c"/><rect x="725.28" y="247.80" width="9.23" height="1.5" fill="#32274c"/><rect x="725.28" y="259.3" width="9.23" height="1.7" fill="#fde725"/><rect x="734.52" y="223.80" width="9.23" height="3.0" fill="#32274c"/><rect x="734.52" y="228.30" width="9.23" height="1.5" fill="#32274c"/><rect x="734.52" y="234.30" width="9.23" height="1.5" fill="#32274c"/><rect x="734.52" y="240.30" width="9.23" height="1.5" fill="#32274c"/><rect x="734.52" y="243.30" width="9.23" height="1.5" fill="#3a4884"/><rect x="734.52" y="259.3" width="9.23" height="1.7" fill="#fde725"/><rect x="743.75" y="222.30" width="9.23" height="1.5" fill="#32274c"/><rect x="743.75" y="225.30" width="9.23" height="1.5" fill="#32274c"/><rect x="743.75" y="228.30" width="9.23" height="1.5" fill="#32274c"/><rect x="743.75" y="232.80" width="9.23" height="1.5" fill="#32274c"/><rect x="743.75" y="238.80" width="9.23" height="1.5" fill="#32274c"/><rect x="743.75" y="241.80" width="9.23" height="1.5" fill="#3a4884"/><rect x="743.75" y="259.3" width="9.23" height="1.7" fill="#fde725"/><rect x="752.98" y="223.80" width="9.23" height="3.0" fill="#32274c"/><rect x="752.98" y="238.80" width="9.23" height="1.5" fill="#32274c"/><rect x="752.98" y="246.30" width="9.23" height="1.5" fill="#32274c"/><rect x="752.98" y="259.3" width="9.23" height="1.7" fill="#fde725"/><rect x="762.22" y="222.30" width="9.23" height="3.0" fill="#32274c"/><rect x="762.22" y="226.80" width="9.23" height="1.5" fill="#32274c"/><rect x="762.22" y="231.30" width="9.23" height="1.5" fill="#3a4884"/><rect x="762.22" y="234.30" width="9.23" height="3.0" fill="#32274c"/><rect x="762.22" y="240.30" width="9.23" height="3.0" fill="#32274c"/><rect x="762.22" y="246.30" width="9.23" height="1.5" fill="#32274c"/><rect x="762.22" y="259.3" width="9.23" height="1.7" fill="#fde725"/><rect x="771.45" y="222.30" width="9.23" height="1.5" fill="#32274c"/><rect x="771.45" y="228.30" width="9.23" height="1.5" fill="#32274c"/><rect x="771.45" y="231.30" width="9.23" height="1.5" fill="#32274c"/><rect x="771.45" y="234.30" width="9.23" height="1.5" fill="#32274c"/><rect x="771.45" y="241.80" width="9.23" height="1.5" fill="#32274c"/><rect x="771.45" y="259.3" width="9.23" height="1.7" fill="#fde725"/><rect x="780.68" y="222.30" width="9.23" height="1.5" fill="#3a4884"/><rect x="780.68" y="231.30" width="9.23" height="3.0" fill="#32274c"/><rect x="780.68" y="240.30" width="9.23" height="1.5" fill="#3a4884"/><rect x="780.68" y="243.30" width="9.23" height="1.5" fill="#32274c"/><rect x="780.68" y="259.3" width="9.23" height="1.7" fill="#fde725"/><rect x="789.92" y="225.30" width="9.23" height="1.5" fill="#32274c"/><rect x="789.92" y="231.30" width="9.23" height="1.5" fill="#3a4884"/><rect x="789.92" y="234.30" width="9.23" height="1.5" fill="#32274c"/><rect x="789.92" y="237.30" width="9.23" height="1.5" fill="#3a4884"/><rect x="789.92" y="244.80" width="9.23" height="1.5" fill="#32274c"/><rect x="789.92" y="259.3" width="9.23" height="1.7" fill="#fde725"/><rect x="799.15" y="226.80" width="9.23" height="3.0" fill="#32274c"/><rect x="799.15" y="232.80" width="9.23" height="1.5" fill="#3a4884"/><rect x="799.15" y="240.30" width="9.23" height="3.0" fill="#32274c"/><rect x="799.15" y="244.80" width="9.23" height="1.5" fill="#3a4884"/><rect x="799.15" y="259.3" width="9.23" height="1.7" fill="#fde725"/><rect x="808.38" y="222.30" width="9.23" height="1.5" fill="#32274c"/><rect x="808.38" y="226.80" width="9.23" height="1.5" fill="#32274c"/><rect x="808.38" y="231.30" width="9.23" height="1.5" fill="#32274c"/><rect x="808.38" y="234.30" width="9.23" height="1.5" fill="#32274c"/><rect x="808.38" y="237.30" width="9.23" height="1.5" fill="#32274c"/><rect x="808.38" y="243.30" width="9.23" height="1.5" fill="#32274c"/><rect x="808.38" y="247.80" width="9.23" height="1.5" fill="#3a4884"/><rect x="808.38" y="259.3" width="9.23" height="1.7" fill="#fde725"/><rect x="817.62" y="222.30" width="9.23" height="3.0" fill="#32274c"/><rect x="817.62" y="231.30" width="9.23" height="3.0" fill="#32274c"/><rect x="817.62" y="237.30" width="9.23" height="1.5" fill="#32274c"/><rect x="817.62" y="240.30" width="9.23" height="1.5" fill="#32274c"/><rect x="817.62" y="243.30" width="9.23" height="1.5" fill="#32274c"/><rect x="817.62" y="247.80" width="9.23" height="1.5" fill="#32274c"/><rect x="817.62" y="259.3" width="9.23" height="1.7" fill="#fde725"/><rect x="826.85" y="226.80" width="9.23" height="1.5" fill="#32274c"/><rect x="826.85" y="231.30" width="9.23" height="3.0" fill="#32274c"/><rect x="826.85" y="235.80" width="9.23" height="1.5" fill="#32274c"/><rect x="826.85" y="240.30" width="9.23" height="1.5" fill="#3a4884"/><rect x="826.85" y="243.30" width="9.23" height="1.5" fill="#32274c"/><rect x="826.85" y="259.3" width="9.23" height="1.7" fill="#fde725"/><rect x="836.08" y="225.30" width="9.23" height="1.5" fill="#32274c"/><rect x="836.08" y="228.30" width="9.23" height="1.5" fill="#3a4884"/><rect x="836.08" y="237.30" width="9.23" height="1.5" fill="#32274c"/><rect x="836.08" y="259.3" width="9.23" height="1.7" fill="#fde725"/><rect x="845.32" y="229.80" width="9.23" height="1.5" fill="#32274c"/><rect x="845.32" y="234.30" width="9.23" height="1.5" fill="#32274c"/><rect x="845.32" y="237.30" width="9.23" height="1.5" fill="#3a4884"/><rect x="845.32" y="240.30" width="9.23" height="1.5" fill="#32274c"/><rect x="845.32" y="249.30" width="9.23" height="1.5" fill="#3a4884"/><rect x="845.32" y="259.3" width="9.23" height="1.7" fill="#fde725"/><rect x="854.55" y="225.30" width="9.23" height="1.5" fill="#32274c"/><rect x="854.55" y="234.30" width="9.23" height="1.5" fill="#32274c"/><rect x="854.55" y="238.80" width="9.23" height="1.5" fill="#32274c"/><rect x="854.55" y="241.80" width="9.23" height="1.5" fill="#32274c"/><rect x="854.55" y="259.3" width="9.23" height="1.7" fill="#fde725"/><rect x="863.78" y="223.80" width="9.23" height="1.5" fill="#32274c"/><rect x="863.78" y="228.30" width="9.23" height="1.5" fill="#32274c"/><rect x="863.78" y="234.30" width="9.23" height="1.5" fill="#32274c"/><rect x="863.78" y="237.30" width="9.23" height="1.5" fill="#32274c"/><rect x="863.78" y="259.3" width="9.23" height="1.7" fill="#fde725"/><rect x="873.02" y="225.30" width="9.23" height="1.5" fill="#32274c"/><rect x="873.02" y="228.30" width="9.23" height="1.5" fill="#32274c"/><rect x="873.02" y="232.80" width="9.23" height="1.5" fill="#3a4884"/><rect x="873.02" y="235.80" width="9.23" height="1.5" fill="#32274c"/><rect x="873.02" y="238.80" width="9.23" height="1.5" fill="#32274c"/><rect x="873.02" y="243.30" width="9.23" height="1.5" fill="#3a4884"/><rect x="873.02" y="259.3" width="9.23" height="1.7" fill="#fde725"/><rect x="882.25" y="222.30" width="9.23" height="1.5" fill="#32274c"/><rect x="882.25" y="225.30" width="9.23" height="3.0" fill="#32274c"/><rect x="882.25" y="229.80" width="9.23" height="1.5" fill="#32274c"/><rect x="882.25" y="232.80" width="9.23" height="3.0" fill="#32274c"/><rect x="882.25" y="237.30" width="9.23" height="1.5" fill="#32274c"/><rect x="882.25" y="240.30" width="9.23" height="1.5" fill="#3a4884"/><rect x="882.25" y="259.3" width="9.23" height="1.7" fill="#fde725"/><rect x="891.48" y="222.30" width="9.23" height="1.5" fill="#3a4884"/><rect x="891.48" y="229.80" width="9.23" height="1.5" fill="#32274c"/><rect x="891.48" y="234.30" width="9.23" height="1.5" fill="#32274c"/><rect x="891.48" y="238.80" width="9.23" height="1.5" fill="#32274c"/><rect x="891.48" y="243.30" width="9.23" height="1.5" fill="#3a4884"/><rect x="891.48" y="254.50" width="9.23" height="1.5" fill="#32274c"/><rect x="891.48" y="259.3" width="9.23" height="1.7" fill="#fde725"/><rect x="900.72" y="222.30" width="9.23" height="1.5" fill="#32274c"/><rect x="900.72" y="232.80" width="9.23" height="1.5" fill="#32274c"/><rect x="900.72" y="235.80" width="9.23" height="1.5" fill="#32274c"/><rect x="900.72" y="238.80" width="9.23" height="1.5" fill="#3a4884"/><rect x="900.72" y="244.80" width="9.23" height="1.5" fill="#32274c"/><rect x="900.72" y="259.3" width="9.23" height="1.7" fill="#fde725"/><rect x="909.95" y="222.30" width="9.23" height="1.5" fill="#32274c"/><rect x="909.95" y="228.30" width="9.23" height="1.5" fill="#32274c"/><rect x="909.95" y="231.30" width="9.23" height="1.5" fill="#32274c"/><rect x="909.95" y="234.30" width="9.23" height="1.5" fill="#32274c"/><rect x="909.95" y="246.30" width="9.23" height="1.5" fill="#32274c"/><rect x="909.95" y="259.3" width="9.23" height="1.7" fill="#fde725"/><rect x="919.18" y="223.80" width="9.23" height="1.5" fill="#3a4884"/><rect x="919.18" y="228.30" width="9.23" height="1.5" fill="#32274c"/><rect x="919.18" y="237.30" width="9.23" height="1.5" fill="#3a4884"/><rect x="919.18" y="243.30" width="9.23" height="1.5" fill="#3a4884"/><rect x="919.18" y="259.3" width="9.23" height="1.7" fill="#fde725"/><rect x="928.42" y="225.30" width="9.23" height="1.5" fill="#32274c"/><rect x="928.42" y="228.30" width="9.23" height="1.5" fill="#32274c"/><rect x="928.42" y="234.30" width="9.23" height="1.5" fill="#32274c"/><rect x="928.42" y="240.30" width="9.23" height="1.5" fill="#32274c"/><rect x="928.42" y="259.3" width="9.23" height="1.7" fill="#fde725"/><rect x="937.65" y="222.30" width="9.23" height="1.5" fill="#32274c"/><rect x="937.65" y="234.30" width="9.23" height="3.0" fill="#32274c"/><rect x="937.65" y="240.30" width="9.23" height="1.5" fill="#32274c"/><rect x="937.65" y="243.30" width="9.23" height="1.5" fill="#32274c"/><rect x="937.65" y="259.3" width="9.23" height="1.7" fill="#fde725"/><rect x="946.88" y="223.80" width="9.23" height="3.0" fill="#32274c"/><rect x="946.88" y="234.30" width="9.23" height="1.5" fill="#32274c"/><rect x="946.88" y="237.30" width="9.23" height="1.5" fill="#32274c"/><rect x="946.88" y="243.30" width="9.23" height="1.5" fill="#3a4884"/><rect x="946.88" y="259.3" width="9.23" height="1.7" fill="#fde725"/><rect x="956.12" y="222.30" width="9.23" height="1.5" fill="#32274c"/><rect x="956.12" y="225.30" width="9.23" height="1.5" fill="#32274c"/><rect x="956.12" y="228.30" width="9.23" height="1.5" fill="#32274c"/><rect x="956.12" y="232.80" width="9.23" height="1.5" fill="#3a4884"/><rect x="956.12" y="237.30" width="9.23" height="3.0" fill="#32274c"/><rect x="956.12" y="241.80" width="9.23" height="3.0" fill="#32274c"/><rect x="956.12" y="259.3" width="9.23" height="1.7" fill="#fde725"/><rect x="965.35" y="223.80" width="9.23" height="1.5" fill="#3a4884"/><rect x="965.35" y="226.80" width="9.23" height="1.5" fill="#3a4884"/><rect x="965.35" y="229.80" width="9.23" height="1.5" fill="#3a4884"/><rect x="965.35" y="234.30" width="9.23" height="1.5" fill="#32274c"/><rect x="965.35" y="237.30" width="9.23" height="1.5" fill="#32274c"/><rect x="965.35" y="247.80" width="9.23" height="3.0" fill="#32274c"/><rect x="965.35" y="259.3" width="9.23" height="1.7" fill="#fde725"/><rect x="974.58" y="225.30" width="9.23" height="3.0" fill="#32274c"/><rect x="974.58" y="229.80" width="9.23" height="1.5" fill="#32274c"/><rect x="974.58" y="234.30" width="9.23" height="1.5" fill="#32274c"/><rect x="974.58" y="241.80" width="9.23" height="1.5" fill="#3a4884"/><rect x="974.58" y="259.3" width="9.23" height="1.7" fill="#fde725"/><rect x="983.82" y="222.30" width="9.23" height="3.0" fill="#32274c"/><rect x="983.82" y="226.80" width="9.23" height="1.5" fill="#32274c"/><rect x="983.82" y="232.80" width="9.23" height="1.5" fill="#3a4884"/><rect x="983.82" y="237.30" width="9.23" height="1.5" fill="#32274c"/><rect x="983.82" y="259.3" width="9.23" height="1.7" fill="#fde725"/><rect x="993.05" y="222.30" width="9.23" height="1.5" fill="#3a4884"/><rect x="993.05" y="226.80" width="9.23" height="1.5" fill="#32274c"/><rect x="993.05" y="229.80" width="9.23" height="1.5" fill="#32274c"/><rect x="993.05" y="232.80" width="9.23" height="1.5" fill="#3a4884"/><rect x="993.05" y="235.80" width="9.23" height="1.5" fill="#32274c"/><rect x="993.05" y="241.80" width="9.23" height="1.5" fill="#3a4884"/><rect x="993.05" y="246.30" width="9.23" height="1.5" fill="#3a4884"/><rect x="993.05" y="249.30" width="9.23" height="1.5" fill="#32274c"/><rect x="993.05" y="259.3" width="9.23" height="1.7" fill="#fde725"/><rect x="1002.28" y="231.30" width="9.23" height="1.5" fill="#32274c"/><rect x="1002.28" y="234.30" width="9.23" height="3.0" fill="#32274c"/><rect x="1002.28" y="240.30" width="9.23" height="1.5" fill="#32274c"/><rect x="1002.28" y="244.80" width="9.23" height="1.5" fill="#32274c"/><rect x="1002.28" y="259.3" width="9.23" height="1.7" fill="#fde725"/><rect x="1011.52" y="222.30" width="9.23" height="1.5" fill="#32274c"/><rect x="1011.52" y="232.80" width="9.23" height="1.5" fill="#32274c"/><rect x="1011.52" y="235.80" width="9.23" height="1.5" fill="#32274c"/><rect x="1011.52" y="240.30" width="9.23" height="1.5" fill="#32274c"/><rect x="1011.52" y="259.3" width="9.23" height="1.7" fill="#fde725"/><rect x="1020.75" y="223.80" width="9.23" height="1.5" fill="#32274c"/><rect x="1020.75" y="237.30" width="9.23" height="3.0" fill="#32274c"/><rect x="1020.75" y="241.80" width="9.23" height="1.5" fill="#3a4884"/><rect x="1020.75" y="259.3" width="9.23" height="1.7" fill="#fde725"/><rect x="1029.98" y="222.30" width="9.23" height="1.5" fill="#32274c"/><rect x="1029.98" y="232.80" width="9.23" height="1.5" fill="#32274c"/><rect x="1029.98" y="237.30" width="9.23" height="1.5" fill="#32274c"/><rect x="1029.98" y="241.80" width="9.23" height="1.5" fill="#32274c"/><rect x="1029.98" y="246.30" width="9.23" height="1.5" fill="#32274c"/><rect x="1029.98" y="259.3" width="9.23" height="1.7" fill="#fde725"/><rect x="1039.22" y="223.80" width="9.23" height="1.5" fill="#32274c"/><rect x="1039.22" y="226.80" width="9.23" height="1.5" fill="#32274c"/><rect x="1039.22" y="234.30" width="9.23" height="1.5" fill="#32274c"/><rect x="1039.22" y="259.3" width="9.23" height="1.7" fill="#fde725"/><rect x="1048.45" y="223.80" width="9.23" height="1.5" fill="#32274c"/><rect x="1048.45" y="226.80" width="9.23" height="1.5" fill="#3a4884"/><rect x="1048.45" y="229.80" width="9.23" height="1.5" fill="#32274c"/><rect x="1048.45" y="232.80" width="9.23" height="1.5" fill="#32274c"/><rect x="1048.45" y="238.80" width="9.23" height="1.5" fill="#32274c"/><rect x="1048.45" y="241.80" width="9.23" height="1.5" fill="#32274c"/><rect x="1048.45" y="244.80" width="9.23" height="1.5" fill="#32274c"/><rect x="1048.45" y="247.80" width="9.23" height="3.0" fill="#32274c"/><rect x="1048.45" y="259.3" width="9.23" height="1.7" fill="#fde725"/><rect x="1057.68" y="234.30" width="9.23" height="1.5" fill="#32274c"/><rect x="1057.68" y="238.80" width="9.23" height="3.0" fill="#32274c"/><rect x="1057.68" y="243.30" width="9.23" height="1.5" fill="#32274c"/><rect x="1057.68" y="246.30" width="9.23" height="1.5" fill="#32274c"/><rect x="1057.68" y="249.30" width="9.23" height="1.5" fill="#32274c"/><rect x="1057.68" y="259.3" width="9.23" height="1.7" fill="#fde725"/><rect x="1066.92" y="225.30" width="9.23" height="1.5" fill="#3a4884"/><rect x="1066.92" y="231.30" width="9.23" height="1.5" fill="#32274c"/><rect x="1066.92" y="237.30" width="9.23" height="1.5" fill="#32274c"/><rect x="1066.92" y="241.80" width="9.23" height="1.5" fill="#32274c"/><rect x="1066.92" y="259.3" width="9.23" height="1.7" fill="#fde725"/><rect x="1076.15" y="223.80" width="9.23" height="3.0" fill="#32274c"/><rect x="1076.15" y="232.80" width="9.23" height="1.5" fill="#32274c"/><rect x="1076.15" y="235.80" width="9.23" height="1.5" fill="#32274c"/><rect x="1076.15" y="241.80" width="9.23" height="1.5" fill="#32274c"/><rect x="1076.15" y="259.3" width="9.23" height="1.7" fill="#fde725"/><rect x="1085.38" y="222.30" width="9.23" height="1.5" fill="#32274c"/><rect x="1085.38" y="226.80" width="9.23" height="1.5" fill="#32274c"/><rect x="1085.38" y="231.30" width="9.23" height="1.5" fill="#32274c"/><rect x="1085.38" y="235.80" width="9.23" height="1.5" fill="#32274c"/><rect x="1085.38" y="244.80" width="9.23" height="1.5" fill="#32274c"/><rect x="1085.38" y="259.3" width="9.23" height="1.7" fill="#fde725"/><rect x="1094.62" y="225.30" width="9.23" height="1.5" fill="#32274c"/><rect x="1094.62" y="231.30" width="9.23" height="1.5" fill="#32274c"/><rect x="1094.62" y="234.30" width="9.23" height="1.5" fill="#32274c"/><rect x="1094.62" y="238.80" width="9.23" height="1.5" fill="#32274c"/><rect x="1094.62" y="247.80" width="9.23" height="1.5" fill="#32274c"/><rect x="1094.62" y="259.3" width="9.23" height="1.7" fill="#fde725"/><rect x="1103.85" y="223.80" width="9.23" height="1.5" fill="#32274c"/><rect x="1103.85" y="226.80" width="9.23" height="1.5" fill="#32274c"/><rect x="1103.85" y="234.30" width="9.23" height="1.5" fill="#32274c"/><rect x="1103.85" y="238.80" width="9.23" height="1.5" fill="#32274c"/><rect x="1103.85" y="241.80" width="9.23" height="1.5" fill="#32274c"/><rect x="1103.85" y="244.80" width="9.23" height="1.5" fill="#3a4884"/><rect x="1103.85" y="259.3" width="9.23" height="1.7" fill="#fde725"/><rect x="1113.08" y="228.30" width="9.23" height="1.5" fill="#3a4884"/><rect x="1113.08" y="234.30" width="9.23" height="1.5" fill="#32274c"/><rect x="1113.08" y="238.80" width="9.23" height="1.5" fill="#32274c"/><rect x="1113.08" y="244.80" width="9.23" height="1.5" fill="#32274c"/><rect x="1113.08" y="247.80" width="9.23" height="1.5" fill="#3a4884"/><rect x="1113.08" y="259.3" width="9.23" height="1.7" fill="#fde725"/><rect x="1122.32" y="225.30" width="9.23" height="1.5" fill="#32274c"/><rect x="1122.32" y="228.30" width="9.23" height="1.5" fill="#32274c"/><rect x="1122.32" y="231.30" width="9.23" height="1.5" fill="#3a4884"/><rect x="1122.32" y="235.80" width="9.23" height="1.5" fill="#32274c"/><rect x="1122.32" y="240.30" width="9.23" height="1.5" fill="#32274c"/><rect x="1122.32" y="243.30" width="9.23" height="1.5" fill="#32274c"/><rect x="1122.32" y="259.3" width="9.23" height="1.7" fill="#fde725"/><rect x="1131.55" y="222.30" width="9.23" height="1.5" fill="#32274c"/><rect x="1131.55" y="225.30" width="9.23" height="1.5" fill="#32274c"/><rect x="1131.55" y="228.30" width="9.23" height="1.5" fill="#32274c"/><rect x="1131.55" y="232.80" width="9.23" height="1.5" fill="#32274c"/><rect x="1131.55" y="237.30" width="9.23" height="1.5" fill="#3a4884"/><rect x="1131.55" y="240.30" width="9.23" height="1.5" fill="#32274c"/><rect x="1131.55" y="244.80" width="9.23" height="1.5" fill="#32274c"/><rect x="1131.55" y="259.3" width="9.23" height="1.7" fill="#fde725"/><rect x="1140.78" y="225.30" width="9.23" height="1.5" fill="#3a4884"/><rect x="1140.78" y="231.30" width="9.23" height="3.0" fill="#32274c"/><rect x="1140.78" y="237.30" width="9.23" height="1.5" fill="#32274c"/><rect x="1140.78" y="241.80" width="9.23" height="1.5" fill="#32274c"/><rect x="1140.78" y="246.30" width="9.23" height="1.5" fill="#3a4884"/><rect x="1140.78" y="249.30" width="9.23" height="1.5" fill="#32274c"/><rect x="1140.78" y="259.3" width="9.23" height="1.7" fill="#fde725"/><rect x="1150.02" y="231.30" width="9.23" height="1.5" fill="#3a4884"/><rect x="1150.02" y="240.30" width="9.23" height="1.5" fill="#32274c"/><rect x="1150.02" y="243.30" width="9.23" height="3.0" fill="#32274c"/><rect x="1150.02" y="250.00" width="9.23" height="1.5" fill="#32274c"/><rect x="1150.02" y="259.3" width="9.23" height="1.7" fill="#fde725"/><rect x="1159.25" y="225.30" width="9.23" height="1.5" fill="#3a4884"/><rect x="1159.25" y="229.80" width="9.23" height="1.5" fill="#32274c"/><rect x="1159.25" y="235.80" width="9.23" height="1.5" fill="#32274c"/><rect x="1159.25" y="238.80" width="9.23" height="1.5" fill="#32274c"/><rect x="1159.25" y="249.30" width="9.23" height="1.5" fill="#3a4884"/><rect x="1159.25" y="259.3" width="9.23" height="1.7" fill="#fde725"/><rect x="1168.48" y="226.80" width="9.23" height="1.5" fill="#32274c"/><rect x="1168.48" y="234.30" width="9.23" height="1.5" fill="#32274c"/><rect x="1168.48" y="238.80" width="9.23" height="1.5" fill="#32274c"/><rect x="1168.48" y="243.30" width="9.23" height="1.5" fill="#32274c"/><rect x="1168.48" y="259.3" width="9.23" height="1.7" fill="#fde725"/><rect x="1177.72" y="222.30" width="9.23" height="1.5" fill="#32274c"/><rect x="1177.72" y="232.80" width="9.23" height="1.5" fill="#3a4884"/><rect x="1177.72" y="240.30" width="9.23" height="1.5" fill="#32274c"/><rect x="1177.72" y="244.80" width="9.23" height="1.5" fill="#32274c"/><rect x="1177.72" y="259.3" width="9.23" height="1.7" fill="#fde725"/><rect x="1186.95" y="226.80" width="9.23" height="1.5" fill="#3a4884"/><rect x="1186.95" y="232.80" width="9.23" height="1.5" fill="#32274c"/><rect x="1186.95" y="259.3" width="9.23" height="1.7" fill="#fde725"/><rect x="1196.18" y="222.30" width="9.23" height="1.5" fill="#32274c"/><rect x="1196.18" y="228.30" width="9.23" height="1.5" fill="#32274c"/><rect x="1196.18" y="232.80" width="9.23" height="1.5" fill="#3a4884"/><rect x="1196.18" y="235.80" width="9.23" height="1.5" fill="#32274c"/><rect x="1196.18" y="240.30" width="9.23" height="1.5" fill="#32274c"/><rect x="1196.18" y="243.30" width="9.23" height="1.5" fill="#3a4884"/><rect x="1196.18" y="259.3" width="9.23" height="1.7" fill="#fde725"/><rect x="1205.42" y="225.30" width="9.23" height="1.5" fill="#32274c"/><rect x="1205.42" y="229.80" width="9.23" height="1.5" fill="#32274c"/><rect x="1205.42" y="232.80" width="9.23" height="1.5" fill="#3a4884"/><rect x="1205.42" y="235.80" width="9.23" height="1.5" fill="#32274c"/><rect x="1205.42" y="238.80" width="9.23" height="1.5" fill="#32274c"/><rect x="1205.42" y="243.30" width="9.23" height="1.5" fill="#32274c"/><rect x="1205.42" y="246.30" width="9.23" height="1.5" fill="#32274c"/><rect x="1205.42" y="259.3" width="9.23" height="1.7" fill="#fde725"/><rect x="1214.65" y="223.80" width="9.23" height="1.5" fill="#32274c"/><rect x="1214.65" y="226.80" width="9.23" height="1.5" fill="#3a4884"/><rect x="1214.65" y="229.80" width="9.23" height="1.5" fill="#32274c"/><rect x="1214.65" y="241.80" width="9.23" height="1.5" fill="#32274c"/><rect x="1214.65" y="244.80" width="9.23" height="1.5" fill="#32274c"/><rect x="1214.65" y="259.3" width="9.23" height="1.7" fill="#fde725"/><rect x="1223.88" y="222.30" width="9.23" height="1.5" fill="#32274c"/><rect x="1223.88" y="228.30" width="9.23" height="1.5" fill="#32274c"/><rect x="1223.88" y="232.80" width="9.23" height="1.5" fill="#32274c"/><rect x="1223.88" y="238.80" width="9.23" height="1.5" fill="#32274c"/><rect x="1223.88" y="241.80" width="9.23" height="1.5" fill="#32274c"/><rect x="1223.88" y="259.3" width="9.23" height="1.7" fill="#fde725"/><rect x="1233.12" y="222.30" width="9.23" height="1.5" fill="#32274c"/><rect x="1233.12" y="234.30" width="9.23" height="1.5" fill="#32274c"/><rect x="1233.12" y="238.80" width="9.23" height="1.5" fill="#32274c"/><rect x="1233.12" y="246.30" width="9.23" height="1.5" fill="#3a4884"/><rect x="1233.12" y="259.3" width="9.23" height="1.7" fill="#fde725"/><rect x="1242.35" y="222.30" width="9.23" height="1.5" fill="#3a4884"/><rect x="1242.35" y="225.30" width="9.23" height="1.5" fill="#32274c"/><rect x="1242.35" y="228.30" width="9.23" height="3.0" fill="#32274c"/><rect x="1242.35" y="234.30" width="9.23" height="1.5" fill="#32274c"/><rect x="1242.35" y="237.30" width="9.23" height="1.5" fill="#32274c"/><rect x="1242.35" y="241.80" width="9.23" height="1.5" fill="#3a4884"/><rect x="1242.35" y="259.3" width="9.23" height="1.7" fill="#fde725"/><rect x="1251.58" y="228.30" width="9.23" height="3.0" fill="#32274c"/><rect x="1251.58" y="234.30" width="9.23" height="1.5" fill="#32274c"/><rect x="1251.58" y="237.30" width="9.23" height="1.5" fill="#32274c"/><rect x="1251.58" y="243.30" width="9.23" height="1.5" fill="#32274c"/><rect x="1251.58" y="259.3" width="9.23" height="1.7" fill="#fde725"/><rect x="1260.82" y="223.80" width="9.23" height="1.5" fill="#32274c"/><rect x="1260.82" y="226.80" width="9.23" height="1.5" fill="#32274c"/><rect x="1260.82" y="232.80" width="9.23" height="1.5" fill="#32274c"/><rect x="1260.82" y="241.80" width="9.23" height="1.5" fill="#3a4884"/><rect x="1260.82" y="256.00" width="9.23" height="1.5" fill="#32274c"/><rect x="1260.82" y="259.3" width="9.23" height="1.7" fill="#fde725"/><rect x="1270.05" y="222.30" width="9.23" height="1.5" fill="#32274c"/><rect x="1270.05" y="226.80" width="9.23" height="3.0" fill="#32274c"/><rect x="1270.05" y="232.80" width="9.23" height="1.5" fill="#32274c"/><rect x="1270.05" y="237.30" width="9.23" height="1.5" fill="#32274c"/><rect x="1270.05" y="240.30" width="9.23" height="1.5" fill="#3a4884"/><rect x="1270.05" y="246.30" width="9.23" height="1.5" fill="#32274c"/><rect x="1270.05" y="259.3" width="9.23" height="1.7" fill="#fde725"/><rect x="1279.28" y="226.80" width="9.23" height="1.5" fill="#32274c"/><rect x="1279.28" y="231.30" width="9.23" height="3.0" fill="#32274c"/><rect x="1279.28" y="241.80" width="9.23" height="1.5" fill="#32274c"/><rect x="1279.28" y="244.80" width="9.23" height="1.5" fill="#3a4884"/><rect x="1279.28" y="250.00" width="9.23" height="1.5" fill="#32274c"/><rect x="1279.28" y="259.3" width="9.23" height="1.7" fill="#fde725"/><rect x="1288.52" y="225.30" width="9.23" height="1.5" fill="#32274c"/><rect x="1288.52" y="229.80" width="9.23" height="1.5" fill="#32274c"/><rect x="1288.52" y="232.80" width="9.23" height="1.5" fill="#32274c"/><rect x="1288.52" y="240.30" width="9.23" height="1.5" fill="#3a4884"/><rect x="1288.52" y="259.3" width="9.23" height="1.7" fill="#fde725"/><rect x="1297.75" y="222.30" width="9.23" height="1.5" fill="#32274c"/><rect x="1297.75" y="231.30" width="9.23" height="1.5" fill="#32274c"/><rect x="1297.75" y="234.30" width="9.23" height="1.5" fill="#32274c"/><rect x="1297.75" y="259.3" width="9.23" height="1.7" fill="#fde725"/><rect x="1306.98" y="222.30" width="9.23" height="1.5" fill="#32274c"/><rect x="1306.98" y="225.30" width="9.23" height="1.5" fill="#3a4884"/><rect x="1306.98" y="228.30" width="9.23" height="1.5" fill="#32274c"/><rect x="1306.98" y="232.80" width="9.23" height="1.5" fill="#32274c"/><rect x="1306.98" y="238.80" width="9.23" height="3.0" fill="#32274c"/><rect x="1306.98" y="243.30" width="9.23" height="1.5" fill="#32274c"/><rect x="1306.98" y="259.3" width="9.23" height="1.7" fill="#fde725"/><rect x="1316.22" y="222.30" width="9.23" height="1.5" fill="#3a4884"/><rect x="1316.22" y="225.30" width="9.23" height="1.5" fill="#3a4884"/><rect x="1316.22" y="228.30" width="9.23" height="1.5" fill="#3a4884"/><rect x="1316.22" y="231.30" width="9.23" height="1.5" fill="#32274c"/><rect x="1316.22" y="234.30" width="9.23" height="3.0" fill="#32274c"/><rect x="1316.22" y="240.30" width="9.23" height="3.0" fill="#32274c"/><rect x="1316.22" y="259.3" width="9.23" height="1.7" fill="#fde725"/><rect x="1325.45" y="222.30" width="9.23" height="1.5" fill="#32274c"/><rect x="1325.45" y="225.30" width="9.23" height="1.5" fill="#32274c"/><rect x="1325.45" y="228.30" width="9.23" height="1.5" fill="#32274c"/><rect x="1325.45" y="231.30" width="9.23" height="1.5" fill="#32274c"/><rect x="1325.45" y="237.30" width="9.23" height="1.5" fill="#32274c"/><rect x="1325.45" y="246.30" width="9.23" height="1.5" fill="#32274c"/><rect x="1325.45" y="259.3" width="9.23" height="1.7" fill="#fde725"/><rect x="1334.68" y="223.80" width="9.23" height="1.5" fill="#3a4884"/><rect x="1334.68" y="226.80" width="9.23" height="1.5" fill="#32274c"/><rect x="1334.68" y="229.80" width="9.23" height="1.5" fill="#32274c"/><rect x="1334.68" y="234.30" width="9.23" height="1.5" fill="#32274c"/><rect x="1334.68" y="244.80" width="9.23" height="1.5" fill="#32274c"/><rect x="1334.68" y="259.3" width="9.23" height="1.7" fill="#fde725"/><rect x="1343.92" y="226.80" width="9.23" height="1.5" fill="#32274c"/><rect x="1343.92" y="231.30" width="9.23" height="1.5" fill="#3a4884"/><rect x="1343.92" y="234.30" width="9.23" height="1.5" fill="#32274c"/><rect x="1343.92" y="237.30" width="9.23" height="1.5" fill="#32274c"/><rect x="1343.92" y="241.80" width="9.23" height="1.5" fill="#32274c"/><rect x="1343.92" y="259.3" width="9.23" height="1.7" fill="#fde725"/><rect x="1353.15" y="226.80" width="9.23" height="3.0" fill="#32274c"/><rect x="1353.15" y="231.30" width="9.23" height="1.5" fill="#32274c"/><rect x="1353.15" y="237.30" width="9.23" height="1.5" fill="#32274c"/><rect x="1353.15" y="240.30" width="9.23" height="1.5" fill="#32274c"/><rect x="1353.15" y="243.30" width="9.23" height="3.0" fill="#32274c"/><rect x="1353.15" y="253.00" width="9.23" height="1.5" fill="#32274c"/><rect x="1353.15" y="259.3" width="9.23" height="1.7" fill="#fde725"/><rect x="1362.38" y="235.80" width="9.23" height="1.5" fill="#32274c"/><rect x="1362.38" y="238.80" width="9.23" height="1.5" fill="#32274c"/><rect x="1362.38" y="243.30" width="9.23" height="1.5" fill="#32274c"/><rect x="1362.38" y="259.3" width="9.23" height="1.7" fill="#fde725"/><rect x="1371.62" y="228.30" width="9.23" height="1.5" fill="#32274c"/><rect x="1371.62" y="231.30" width="9.23" height="3.0" fill="#32274c"/><rect x="1371.62" y="238.80" width="9.23" height="1.5" fill="#32274c"/><rect x="1371.62" y="259.3" width="9.23" height="1.7" fill="#fde725"/><rect x="1380.85" y="223.80" width="9.23" height="1.5" fill="#32274c"/><rect x="1380.85" y="228.30" width="9.23" height="1.5" fill="#32274c"/><rect x="1380.85" y="231.30" width="9.23" height="1.5" fill="#32274c"/><rect x="1380.85" y="234.30" width="9.23" height="1.5" fill="#32274c"/><rect x="1380.85" y="237.30" width="9.23" height="1.5" fill="#32274c"/><rect x="1380.85" y="241.80" width="9.23" height="1.5" fill="#32274c"/><rect x="1380.85" y="259.3" width="9.23" height="1.7" fill="#fde725"/><rect x="1390.08" y="222.30" width="9.23" height="1.5" fill="#3a4884"/><rect x="1390.08" y="225.30" width="9.23" height="1.5" fill="#32274c"/><rect x="1390.08" y="228.30" width="9.23" height="1.5" fill="#32274c"/><rect x="1390.08" y="235.80" width="9.23" height="1.5" fill="#3a4884"/><rect x="1390.08" y="240.30" width="9.23" height="1.5" fill="#32274c"/><rect x="1390.08" y="243.30" width="9.23" height="1.5" fill="#32274c"/><rect x="1390.08" y="259.3" width="9.23" height="1.7" fill="#fde725"/><rect x="1399.32" y="222.30" width="9.23" height="1.5" fill="#3a4884"/><rect x="1399.32" y="232.80" width="9.23" height="1.5" fill="#3a4884"/><rect x="1399.32" y="238.80" width="9.23" height="1.5" fill="#32274c"/><rect x="1399.32" y="241.80" width="9.23" height="3.0" fill="#32274c"/><rect x="1399.32" y="259.3" width="9.23" height="1.7" fill="#fde725"/><rect x="1408.55" y="223.80" width="9.23" height="3.0" fill="#32274c"/><rect x="1408.55" y="231.30" width="9.23" height="1.5" fill="#32274c"/><rect x="1408.55" y="234.30" width="9.23" height="1.5" fill="#32274c"/><rect x="1408.55" y="238.80" width="9.23" height="1.5" fill="#32274c"/><rect x="1408.55" y="243.30" width="9.23" height="1.5" fill="#3a4884"/><rect x="1408.55" y="259.3" width="9.23" height="1.7" fill="#fde725"/><rect x="1417.78" y="222.30" width="9.23" height="1.5" fill="#32274c"/><rect x="1417.78" y="226.80" width="9.23" height="1.5" fill="#3a4884"/><rect x="1417.78" y="231.30" width="9.23" height="1.5" fill="#32274c"/><rect x="1417.78" y="234.30" width="9.23" height="1.5" fill="#32274c"/><rect x="1417.78" y="238.80" width="9.23" height="1.5" fill="#32274c"/><rect x="1417.78" y="244.80" width="9.23" height="1.5" fill="#32274c"/><rect x="1417.78" y="259.3" width="9.23" height="1.7" fill="#fde725"/><rect x="1427.02" y="223.80" width="9.23" height="1.5" fill="#32274c"/><rect x="1427.02" y="226.80" width="9.23" height="1.5" fill="#32274c"/><rect x="1427.02" y="229.80" width="9.23" height="1.5" fill="#32274c"/><rect x="1427.02" y="235.80" width="9.23" height="1.5" fill="#32274c"/><rect x="1427.02" y="241.80" width="9.23" height="1.5" fill="#32274c"/><rect x="1427.02" y="244.80" width="9.23" height="1.5" fill="#32274c"/><rect x="1427.02" y="259.3" width="9.23" height="1.7" fill="#fde725"/><rect x="1436.25" y="222.30" width="9.23" height="1.5" fill="#32274c"/><rect x="1436.25" y="225.30" width="9.23" height="1.5" fill="#32274c"/><rect x="1436.25" y="228.30" width="9.23" height="1.5" fill="#32274c"/><rect x="1436.25" y="231.30" width="9.23" height="1.5" fill="#32274c"/><rect x="1436.25" y="237.30" width="9.23" height="1.5" fill="#32274c"/><rect x="1436.25" y="259.3" width="9.23" height="1.7" fill="#fde725"/><rect x="1445.48" y="222.30" width="9.23" height="1.5" fill="#32274c"/><rect x="1445.48" y="225.30" width="9.23" height="1.5" fill="#32274c"/><rect x="1445.48" y="229.80" width="9.23" height="1.5" fill="#3a4884"/><rect x="1445.48" y="232.80" width="9.23" height="1.5" fill="#32274c"/><rect x="1445.48" y="235.80" width="9.23" height="1.5" fill="#3a4884"/><rect x="1445.48" y="238.80" width="9.23" height="1.5" fill="#32274c"/><rect x="1445.48" y="259.3" width="9.23" height="1.7" fill="#fde725"/><rect x="1454.72" y="222.30" width="9.23" height="1.5" fill="#32274c"/><rect x="1454.72" y="225.30" width="9.23" height="1.5" fill="#3a4884"/><rect x="1454.72" y="231.30" width="9.23" height="1.5" fill="#32274c"/><rect x="1454.72" y="235.80" width="9.23" height="1.5" fill="#32274c"/><rect x="1454.72" y="238.80" width="9.23" height="1.5" fill="#32274c"/><rect x="1454.72" y="246.30" width="9.23" height="1.5" fill="#32274c"/><rect x="1454.72" y="259.3" width="9.23" height="1.7" fill="#fde725"/><rect x="1463.95" y="228.30" width="9.23" height="1.5" fill="#32274c"/><rect x="1463.95" y="234.30" width="9.23" height="1.5" fill="#32274c"/><rect x="1463.95" y="240.30" width="9.23" height="3.0" fill="#32274c"/><rect x="1463.95" y="249.30" width="9.23" height="1.5" fill="#32274c"/><rect x="1463.95" y="259.3" width="9.23" height="1.7" fill="#fde725"/><rect x="1473.18" y="222.30" width="9.23" height="1.5" fill="#3a4884"/><rect x="1473.18" y="228.30" width="9.23" height="1.5" fill="#32274c"/><rect x="1473.18" y="234.30" width="9.23" height="3.0" fill="#32274c"/><rect x="1473.18" y="238.80" width="9.23" height="1.5" fill="#32274c"/><rect x="1473.18" y="246.30" width="9.23" height="1.5" fill="#32274c"/><rect x="1473.18" y="259.3" width="9.23" height="1.7" fill="#fde725"/><rect x="1482.42" y="223.80" width="9.23" height="1.5" fill="#32274c"/><rect x="1482.42" y="226.80" width="9.23" height="1.5" fill="#3a4884"/><rect x="1482.42" y="229.80" width="9.23" height="1.5" fill="#32274c"/><rect x="1482.42" y="234.30" width="9.23" height="1.5" fill="#32274c"/><rect x="1482.42" y="237.30" width="9.23" height="1.5" fill="#3a4884"/><rect x="1482.42" y="240.30" width="9.23" height="1.5" fill="#3a4884"/><rect x="1482.42" y="246.30" width="9.23" height="3.0" fill="#32274c"/><rect x="1482.42" y="259.3" width="9.23" height="1.7" fill="#fde725"/><rect x="1491.65" y="222.30" width="9.23" height="1.5" fill="#32274c"/><rect x="1491.65" y="225.30" width="9.23" height="1.5" fill="#32274c"/><rect x="1491.65" y="235.80" width="9.23" height="1.5" fill="#32274c"/><rect x="1491.65" y="238.80" width="9.23" height="1.5" fill="#32274c"/><rect x="1491.65" y="241.80" width="9.23" height="1.5" fill="#32274c"/><rect x="1491.65" y="259.3" width="9.23" height="1.7" fill="#fde725"/><rect x="1500.88" y="223.80" width="9.23" height="1.5" fill="#32274c"/><rect x="1500.88" y="226.80" width="9.23" height="1.5" fill="#32274c"/><rect x="1500.88" y="229.80" width="9.23" height="1.5" fill="#32274c"/><rect x="1500.88" y="232.80" width="9.23" height="1.5" fill="#32274c"/><rect x="1500.88" y="244.80" width="9.23" height="1.5" fill="#32274c"/><rect x="1500.88" y="247.80" width="9.23" height="1.5" fill="#32274c"/><rect x="1500.88" y="259.3" width="9.23" height="1.7" fill="#fde725"/><rect x="1510.12" y="223.80" width="9.23" height="1.5" fill="#3a4884"/><rect x="1510.12" y="228.30" width="9.23" height="1.5" fill="#32274c"/><rect x="1510.12" y="237.30" width="9.23" height="1.5" fill="#32274c"/><rect x="1510.12" y="259.3" width="9.23" height="1.7" fill="#fde725"/><rect x="1519.35" y="225.30" width="9.23" height="1.5" fill="#32274c"/><rect x="1519.35" y="228.30" width="9.23" height="3.0" fill="#32274c"/><rect x="1519.35" y="241.80" width="9.23" height="1.5" fill="#32274c"/><rect x="1519.35" y="259.3" width="9.23" height="1.7" fill="#fde725"/><rect x="1528.58" y="222.30" width="9.23" height="3.0" fill="#32274c"/><rect x="1528.58" y="226.80" width="9.23" height="1.5" fill="#32274c"/><rect x="1528.58" y="231.30" width="9.23" height="1.5" fill="#32274c"/><rect x="1528.58" y="235.80" width="9.23" height="1.5" fill="#32274c"/><rect x="1528.58" y="238.80" width="9.23" height="1.5" fill="#3a4884"/><rect x="1528.58" y="241.80" width="9.23" height="1.5" fill="#32274c"/><rect x="1528.58" y="244.80" width="9.23" height="1.5" fill="#32274c"/><rect x="1528.58" y="247.80" width="9.23" height="1.5" fill="#32274c"/><rect x="1528.58" y="259.3" width="9.23" height="1.7" fill="#fde725"/><rect x="1537.82" y="223.80" width="9.23" height="1.5" fill="#32274c"/><rect x="1537.82" y="229.80" width="9.23" height="1.5" fill="#32274c"/><rect x="1537.82" y="240.30" width="9.23" height="1.5" fill="#32274c"/><rect x="1537.82" y="243.30" width="9.23" height="1.5" fill="#32274c"/><rect x="1537.82" y="246.30" width="9.23" height="1.5" fill="#32274c"/><rect x="1537.82" y="259.3" width="9.23" height="1.7" fill="#fde725"/><rect x="1547.05" y="223.80" width="9.23" height="1.5" fill="#32274c"/><rect x="1547.05" y="226.80" width="9.23" height="1.5" fill="#32274c"/><rect x="1547.05" y="229.80" width="9.23" height="1.5" fill="#32274c"/><rect x="1547.05" y="241.80" width="9.23" height="1.5" fill="#32274c"/><rect x="1547.05" y="259.3" width="9.23" height="1.7" fill="#fde725"/><rect x="1556.28" y="226.80" width="9.23" height="1.5" fill="#32274c"/><rect x="1556.28" y="232.80" width="9.23" height="1.5" fill="#32274c"/><rect x="1556.28" y="235.80" width="9.23" height="1.5" fill="#32274c"/><rect x="1556.28" y="241.80" width="9.23" height="1.5" fill="#3a4884"/><rect x="1556.28" y="244.80" width="9.23" height="1.5" fill="#32274c"/><rect x="1556.28" y="259.3" width="9.23" height="1.7" fill="#fde725"/><rect x="1565.52" y="222.30" width="9.23" height="1.5" fill="#3a4884"/><rect x="1565.52" y="232.80" width="9.23" height="1.5" fill="#32274c"/><rect x="1565.52" y="240.30" width="9.23" height="1.5" fill="#32274c"/><rect x="1565.52" y="259.3" width="9.23" height="1.7" fill="#fde725"/><rect x="1574.75" y="225.30" width="9.23" height="1.5" fill="#32274c"/><rect x="1574.75" y="231.30" width="9.23" height="1.5" fill="#3a4884"/><rect x="1574.75" y="234.30" width="9.23" height="1.5" fill="#32274c"/><rect x="1574.75" y="237.30" width="9.23" height="1.5" fill="#32274c"/><rect x="1574.75" y="243.30" width="9.23" height="3.0" fill="#32274c"/><rect x="1574.75" y="247.80" width="9.23" height="1.5" fill="#3a4884"/><rect x="1574.75" y="259.3" width="9.23" height="1.7" fill="#fde725"/><rect x="1583.98" y="222.30" width="9.23" height="1.5" fill="#32274c"/><rect x="1583.98" y="225.30" width="9.23" height="1.5" fill="#32274c"/><rect x="1583.98" y="231.30" width="9.23" height="1.5" fill="#32274c"/><rect x="1583.98" y="240.30" width="9.23" height="1.5" fill="#32274c"/><rect x="1583.98" y="259.3" width="9.23" height="1.7" fill="#fde725"/><rect x="1593.22" y="225.30" width="9.23" height="1.5" fill="#32274c"/><rect x="1593.22" y="228.30" width="9.23" height="1.5" fill="#32274c"/><rect x="1593.22" y="234.30" width="9.23" height="1.5" fill="#32274c"/><rect x="1593.22" y="237.30" width="9.23" height="1.5" fill="#3a4884"/><rect x="1593.22" y="240.30" width="9.23" height="1.5" fill="#32274c"/><rect x="1593.22" y="249.30" width="9.23" height="1.5" fill="#32274c"/><rect x="1593.22" y="259.3" width="9.23" height="1.7" fill="#fde725"/><rect x="1602.45" y="225.30" width="9.23" height="1.5" fill="#32274c"/><rect x="1602.45" y="228.30" width="9.23" height="1.5" fill="#32274c"/><rect x="1602.45" y="232.80" width="9.23" height="1.5" fill="#32274c"/><rect x="1602.45" y="237.30" width="9.23" height="3.0" fill="#32274c"/><rect x="1602.45" y="241.80" width="9.23" height="1.5" fill="#32274c"/><rect x="1602.45" y="244.80" width="9.23" height="1.5" fill="#32274c"/><rect x="1602.45" y="259.3" width="9.23" height="1.7" fill="#fde725"/><rect x="1611.68" y="226.80" width="9.23" height="3.0" fill="#32274c"/><rect x="1611.68" y="232.80" width="9.23" height="3.0" fill="#32274c"/><rect x="1611.68" y="237.30" width="9.23" height="1.5" fill="#3a4884"/><rect x="1611.68" y="240.30" width="9.23" height="3.0" fill="#32274c"/><rect x="1611.68" y="259.3" width="9.23" height="1.7" fill="#fde725"/><rect x="1620.92" y="223.80" width="9.23" height="1.5" fill="#32274c"/><rect x="1620.92" y="226.80" width="9.23" height="1.5" fill="#32274c"/><rect x="1620.92" y="231.30" width="9.23" height="1.5" fill="#32274c"/><rect x="1620.92" y="234.30" width="9.23" height="1.5" fill="#32274c"/><rect x="1620.92" y="241.80" width="9.23" height="1.5" fill="#32274c"/><rect x="1620.92" y="246.30" width="9.23" height="1.5" fill="#3a4884"/><rect x="1620.92" y="259.3" width="9.23" height="1.7" fill="#fde725"/><rect x="1630.15" y="222.30" width="9.23" height="1.5" fill="#32274c"/><rect x="1630.15" y="232.80" width="9.23" height="1.5" fill="#32274c"/><rect x="1630.15" y="240.30" width="9.23" height="3.0" fill="#32274c"/><rect x="1630.15" y="259.3" width="9.23" height="1.7" fill="#fde725"/><rect x="1639.38" y="222.30" width="9.23" height="1.5" fill="#32274c"/><rect x="1639.38" y="226.80" width="9.23" height="1.5" fill="#32274c"/><rect x="1639.38" y="231.30" width="9.23" height="1.5" fill="#3a4884"/><rect x="1639.38" y="234.30" width="9.23" height="1.5" fill="#3a4884"/><rect x="1639.38" y="240.30" width="9.23" height="1.5" fill="#32274c"/><rect x="1639.38" y="243.30" width="9.23" height="1.5" fill="#32274c"/><rect x="1639.38" y="249.30" width="9.23" height="1.5" fill="#32274c"/><rect x="1639.38" y="259.3" width="9.23" height="1.7" fill="#fde725"/><rect x="1648.62" y="225.30" width="9.23" height="1.5" fill="#32274c"/><rect x="1648.62" y="228.30" width="9.23" height="1.5" fill="#32274c"/><rect x="1648.62" y="232.80" width="9.23" height="1.5" fill="#32274c"/><rect x="1648.62" y="237.30" width="9.23" height="1.5" fill="#32274c"/><rect x="1648.62" y="244.80" width="9.23" height="1.5" fill="#32274c"/><rect x="1648.62" y="259.3" width="9.23" height="1.7" fill="#fde725"/><rect x="1657.85" y="225.30" width="9.23" height="1.5" fill="#32274c"/><rect x="1657.85" y="229.80" width="9.23" height="3.0" fill="#32274c"/><rect x="1657.85" y="234.30" width="9.23" height="1.5" fill="#32274c"/><rect x="1657.85" y="237.30" width="9.23" height="1.5" fill="#32274c"/><rect x="1657.85" y="241.80" width="9.23" height="1.5" fill="#32274c"/><rect x="1657.85" y="259.3" width="9.23" height="1.7" fill="#fde725"/><rect x="1667.08" y="222.30" width="9.23" height="3.0" fill="#32274c"/><rect x="1667.08" y="226.80" width="9.23" height="3.0" fill="#32274c"/><rect x="1667.08" y="231.30" width="9.23" height="1.5" fill="#3a4884"/><rect x="1667.08" y="234.30" width="9.23" height="1.5" fill="#32274c"/><rect x="1667.08" y="238.80" width="9.23" height="1.5" fill="#32274c"/><rect x="1667.08" y="241.80" width="9.23" height="1.5" fill="#32274c"/><rect x="1667.08" y="259.3" width="9.23" height="1.7" fill="#fde725"/><rect x="1676.32" y="222.30" width="9.23" height="1.5" fill="#32274c"/><rect x="1676.32" y="226.80" width="9.23" height="1.5" fill="#32274c"/><rect x="1676.32" y="231.30" width="9.23" height="1.5" fill="#3a4884"/><rect x="1676.32" y="235.80" width="9.23" height="1.5" fill="#32274c"/><rect x="1676.32" y="240.30" width="9.23" height="1.5" fill="#32274c"/><rect x="1676.32" y="244.80" width="9.23" height="1.5" fill="#32274c"/><rect x="1676.32" y="247.80" width="9.23" height="1.5" fill="#32274c"/><rect x="1676.32" y="259.3" width="9.23" height="1.7" fill="#fde725"/><rect x="1685.55" y="222.30" width="9.23" height="3.0" fill="#32274c"/><rect x="1685.55" y="229.80" width="9.23" height="1.5" fill="#32274c"/><rect x="1685.55" y="232.80" width="9.23" height="1.5" fill="#3a4884"/><rect x="1685.55" y="237.30" width="9.23" height="1.5" fill="#32274c"/><rect x="1685.55" y="240.30" width="9.23" height="1.5" fill="#32274c"/><rect x="1685.55" y="259.3" width="9.23" height="1.7" fill="#fde725"/><rect x="1694.78" y="222.30" width="9.23" height="1.5" fill="#32274c"/><rect x="1694.78" y="226.80" width="9.23" height="1.5" fill="#32274c"/><rect x="1694.78" y="229.80" width="9.23" height="1.5" fill="#32274c"/><rect x="1694.78" y="235.80" width="9.23" height="1.5" fill="#32274c"/><rect x="1694.78" y="238.80" width="9.23" height="1.5" fill="#32274c"/><rect x="1694.78" y="246.30" width="9.23" height="1.5" fill="#32274c"/><rect x="1694.78" y="259.3" width="9.23" height="1.7" fill="#fde725"/><rect x="1704.02" y="222.30" width="9.23" height="1.5" fill="#32274c"/><rect x="1704.02" y="232.80" width="9.23" height="1.5" fill="#32274c"/><rect x="1704.02" y="235.80" width="9.23" height="1.5" fill="#32274c"/><rect x="1704.02" y="259.3" width="9.23" height="1.7" fill="#fde725"/><rect x="1713.25" y="229.80" width="9.23" height="1.5" fill="#3a4884"/><rect x="1713.25" y="240.30" width="9.23" height="1.5" fill="#32274c"/><rect x="1713.25" y="254.50" width="9.23" height="1.5" fill="#32274c"/><rect x="1713.25" y="259.3" width="9.23" height="1.7" fill="#fde725"/><rect x="1722.48" y="222.30" width="9.23" height="1.5" fill="#32274c"/><rect x="1722.48" y="225.30" width="9.23" height="1.5" fill="#32274c"/><rect x="1722.48" y="228.30" width="9.23" height="1.5" fill="#32274c"/><rect x="1722.48" y="231.30" width="9.23" height="1.5" fill="#32274c"/><rect x="1722.48" y="234.30" width="9.23" height="1.5" fill="#32274c"/><rect x="1722.48" y="240.30" width="9.23" height="1.5" fill="#32274c"/><rect x="1722.48" y="243.30" width="9.23" height="1.5" fill="#32274c"/><rect x="1722.48" y="259.3" width="9.23" height="1.7" fill="#fde725"/><rect x="1731.72" y="223.80" width="9.23" height="1.5" fill="#32274c"/><rect x="1731.72" y="226.80" width="9.23" height="3.0" fill="#32274c"/><rect x="1731.72" y="231.30" width="9.23" height="1.5" fill="#32274c"/><rect x="1731.72" y="237.30" width="9.23" height="1.5" fill="#3a4884"/><rect x="1731.72" y="241.80" width="9.23" height="3.0" fill="#32274c"/><rect x="1731.72" y="249.30" width="9.23" height="3.0" fill="#32274c"/><rect x="1731.72" y="259.3" width="9.23" height="1.7" fill="#fde725"/><rect x="1740.95" y="223.80" width="9.23" height="1.5" fill="#32274c"/><rect x="1740.95" y="226.80" width="9.23" height="3.0" fill="#32274c"/><rect x="1740.95" y="234.30" width="9.23" height="3.0" fill="#32274c"/><rect x="1740.95" y="238.80" width="9.23" height="1.5" fill="#32274c"/><rect x="1740.95" y="247.80" width="9.23" height="3.0" fill="#32274c"/><rect x="1740.95" y="259.3" width="9.23" height="1.7" fill="#fde725"/><rect x="1750.18" y="225.30" width="9.23" height="1.5" fill="#3a4884"/><rect x="1750.18" y="228.30" width="9.23" height="1.5" fill="#3a4884"/><rect x="1750.18" y="232.80" width="9.23" height="1.5" fill="#32274c"/><rect x="1750.18" y="238.80" width="9.23" height="1.5" fill="#32274c"/><rect x="1750.18" y="243.30" width="9.23" height="1.5" fill="#32274c"/><rect x="1750.18" y="246.30" width="9.23" height="1.5" fill="#32274c"/><rect x="1750.18" y="259.3" width="9.23" height="1.7" fill="#fde725"/><rect x="1759.42" y="223.80" width="9.23" height="3.0" fill="#32274c"/><rect x="1759.42" y="232.80" width="9.23" height="1.5" fill="#32274c"/><rect x="1759.42" y="237.30" width="9.23" height="3.0" fill="#32274c"/><rect x="1759.42" y="241.80" width="9.23" height="1.5" fill="#32274c"/><rect x="1759.42" y="244.80" width="9.23" height="1.5" fill="#32274c"/><rect x="1759.42" y="259.3" width="9.23" height="1.7" fill="#fde725"/><rect x="1768.65" y="223.80" width="9.23" height="1.5" fill="#32274c"/><rect x="1768.65" y="229.80" width="9.23" height="1.5" fill="#3a4884"/><rect x="1768.65" y="232.80" width="9.23" height="3.0" fill="#32274c"/><rect x="1768.65" y="240.30" width="9.23" height="1.5" fill="#32274c"/><rect x="1768.65" y="249.30" width="9.23" height="1.5" fill="#3a4884"/><rect x="1768.65" y="259.3" width="9.23" height="1.7" fill="#fde725"/><rect x="1777.88" y="223.80" width="9.23" height="1.5" fill="#32274c"/><rect x="1777.88" y="226.80" width="9.23" height="3.0" fill="#32274c"/><rect x="1777.88" y="232.80" width="9.23" height="1.5" fill="#32274c"/><rect x="1777.88" y="235.80" width="9.23" height="3.0" fill="#32274c"/><rect x="1777.88" y="240.30" width="9.23" height="1.5" fill="#3a4884"/><rect x="1777.88" y="247.80" width="9.23" height="1.5" fill="#32274c"/><rect x="1777.88" y="259.3" width="9.23" height="1.7" fill="#fde725"/><rect x="1787.12" y="222.30" width="9.23" height="1.5" fill="#32274c"/><rect x="1787.12" y="228.30" width="9.23" height="1.5" fill="#32274c"/><rect x="1787.12" y="234.30" width="9.23" height="1.5" fill="#3a4884"/><rect x="1787.12" y="237.30" width="9.23" height="1.5" fill="#32274c"/><rect x="1787.12" y="247.80" width="9.23" height="1.5" fill="#3a4884"/><rect x="1787.12" y="259.3" width="9.23" height="1.7" fill="#fde725"/><rect x="1796.35" y="229.80" width="4.55" height="1.5" fill="#32274c"/><rect x="1796.35" y="232.80" width="4.55" height="1.5" fill="#32274c"/><rect x="1796.35" y="235.80" width="4.55" height="1.5" fill="#32274c"/><rect x="1796.35" y="238.80" width="4.55" height="1.5" fill="#32274c"/><rect x="1796.35" y="243.30" width="4.55" height="1.5" fill="#3a4884"/><rect x="1796.35" y="246.30" width="4.55" height="1.5" fill="#32274c"/><rect x="1796.35" y="249.30" width="4.55" height="1.5" fill="#32274c"/><rect x="1796.35" y="259.3" width="4.55" height="1.7" fill="#fde725"/><rect x="632" y="257.8" width="10" height="1.5" fill="#2a6f88"/><rect x="670" y="256.4" width="19" height="1.5" fill="#2f2a55"/><rect x="670" y="257.8" width="19" height="1.5" fill="#2a7b8a"/><rect x="689" y="256.4" width="9" height="1.5" fill="#2a6f88"/><rect x="689" y="257.8" width="9" height="1.5" fill="#22a884"/><rect x="698" y="257.8" width="9" height="1.5" fill="#22a884"/><rect x="698" y="256.4" width="18" height="1.5" fill="#2f2a55"/><rect x="937" y="257.8" width="10" height="1.5" fill="#2a6f88"/><rect x="1242" y="257.8" width="9" height="1.5" fill="#2f2a55"/><line x1="536.0" y1="262.1" x2="1800.9" y2="262.1" stroke="#6a6c72" stroke-width="1" stroke-dasharray="2 1"/><line x1="536.0" y1="119.0" x2="536.0" y2="262.6" stroke="#85858a" stroke-width="1"/><rect x="536.0" y="119.0" width="2" height="2" fill="#4cfa7c"/><line x1="526" y1="132.5" x2="536.0" y2="132.5" stroke="#15161a" stroke-width="1"/><line x1="526" y1="176.3" x2="536.0" y2="176.3" stroke="#15161a" stroke-width="1"/><line x1="526" y1="219.45" x2="536.0" y2="219.45" stroke="#15161a" stroke-width="1"/><line x1="526" y1="262.1" x2="536.0" y2="262.1" stroke="#15161a" stroke-width="1"/><line x1="536.00" y1="262.6" x2="536.00" y2="271.1" stroke="#15161a" stroke-width="1"/><line x1="591.40" y1="262.6" x2="591.40" y2="271.1" stroke="#15161a" stroke-width="1"/><line x1="646.80" y1="262.6" x2="646.80" y2="271.1" stroke="#15161a" stroke-width="1"/><line x1="702.20" y1="262.6" x2="702.20" y2="271.1" stroke="#15161a" stroke-width="1"/><line x1="757.60" y1="262.6" x2="757.60" y2="271.1" stroke="#15161a" stroke-width="1"/><line x1="813.00" y1="262.6" x2="813.00" y2="271.1" stroke="#15161a" stroke-width="1"/><line x1="868.40" y1="262.6" x2="868.40" y2="271.1" stroke="#15161a" stroke-width="1"/><line x1="923.80" y1="262.6" x2="923.80" y2="271.1" stroke="#15161a" stroke-width="1"/><line x1="979.20" y1="262.6" x2="979.20" y2="271.1" stroke="#15161a" stroke-width="1"/><line x1="1034.60" y1="262.6" x2="1034.60" y2="271.1" stroke="#15161a" stroke-width="1"/><line x1="1090.00" y1="262.6" x2="1090.00" y2="271.1" stroke="#15161a" stroke-width="1"/><line x1="1145.40" y1="262.6" x2="1145.40" y2="271.1" stroke="#15161a" stroke-width="1"/><line x1="1200.80" y1="262.6" x2="1200.80" y2="271.1" stroke="#15161a" stroke-width="1"/><line x1="1256.20" y1="262.6" x2="1256.20" y2="271.1" stroke="#15161a" stroke-width="1"/><line x1="1311.60" y1="262.6" x2="1311.60" y2="271.1" stroke="#15161a" stroke-width="1"/><line x1="1367.00" y1="262.6" x2="1367.00" y2="271.1" stroke="#15161a" stroke-width="1"/><line x1="1422.40" y1="262.6" x2="1422.40" y2="271.1" stroke="#15161a" stroke-width="1"/><line x1="1477.80" y1="262.6" x2="1477.80" y2="271.1" stroke="#15161a" stroke-width="1"/><line x1="1533.20" y1="262.6" x2="1533.20" y2="271.1" stroke="#15161a" stroke-width="1"/><line x1="1588.60" y1="262.6" x2="1588.60" y2="271.1" stroke="#15161a" stroke-width="1"/><line x1="1644.00" y1="262.6" x2="1644.00" y2="271.1" stroke="#15161a" stroke-width="1"/><line x1="1699.40" y1="262.6" x2="1699.40" y2="271.1" stroke="#15161a" stroke-width="1"/><line x1="1754.80" y1="262.6" x2="1754.80" y2="271.1" stroke="#15161a" stroke-width="1"/></svg>
<div class="t" style="top:125.68px;font:400 12px/16.8px 'Liberation Mono', monospace;color:#7e7e83;right:1305.10px;">600K</div>
<div class="t" style="top:168.28px;font:400 12px/16.8px 'Liberation Mono', monospace;color:#7e7e83;right:1305.10px;">400K</div>
<div class="t" style="top:211.68px;font:400 12px/16.8px 'Liberation Mono', monospace;color:#7e7e83;right:1305.10px;">200K</div>
<div class="t" style="top:254.78px;font:400 12px/16.8px 'Liberation Mono', monospace;color:#7e7e83;right:1305.10px;">0</div>
<div class="t" style="top:274.98px;font:400 12px/16.8px 'Liberation Mono', monospace;color:#7e7e83;left:236.00px;width:600px;text-align:center;">6:00pm</div>
<div class="t" style="top:274.98px;font:400 12px/16.8px 'Liberation Mono', monospace;color:#7e7e83;left:291.40px;width:600px;text-align:center;">6:30pm</div>
<div class="t" style="top:274.98px;font:400 12px/16.8px 'Liberation Mono', monospace;color:#7e7e83;left:346.80px;width:600px;text-align:center;">7:00pm</div>
<div class="t" style="top:274.98px;font:400 12px/16.8px 'Liberation Mono', monospace;color:#7e7e83;left:402.20px;width:600px;text-align:center;">7:30pm</div>
<div class="t" style="top:274.98px;font:400 12px/16.8px 'Liberation Mono', monospace;color:#7e7e83;left:457.60px;width:600px;text-align:center;">8:00pm</div>
<div class="t" style="top:274.98px;font:400 12px/16.8px 'Liberation Mono', monospace;color:#7e7e83;left:513.00px;width:600px;text-align:center;">8:30pm</div>
<div class="t" style="top:274.98px;font:400 12px/16.8px 'Liberation Mono', monospace;color:#7e7e83;left:568.40px;width:600px;text-align:center;">9:00pm</div>
<div class="t" style="top:274.98px;font:400 12px/16.8px 'Liberation Mono', monospace;color:#7e7e83;left:623.80px;width:600px;text-align:center;">9:30pm</div>
<div class="t" style="top:274.98px;font:400 12px/16.8px 'Liberation Mono', monospace;color:#7e7e83;left:679.20px;width:600px;text-align:center;">10:00pm</div>
<div class="t" style="top:274.98px;font:400 12px/16.8px 'Liberation Mono', monospace;color:#7e7e83;left:734.60px;width:600px;text-align:center;">10:30pm</div>
<div class="t" style="top:274.98px;font:400 12px/16.8px 'Liberation Mono', monospace;color:#7e7e83;left:790.00px;width:600px;text-align:center;">11:00pm</div>
<div class="t" style="top:274.98px;font:400 12px/16.8px 'Liberation Mono', monospace;color:#7e7e83;left:845.40px;width:600px;text-align:center;">11:30pm</div>
<div class="t" style="top:274.98px;font:400 12px/16.8px 'Liberation Mono', monospace;color:#7e7e83;left:900.80px;width:600px;text-align:center;">12:00am</div>
<div class="t" style="top:274.98px;font:400 12px/16.8px 'Liberation Mono', monospace;color:#7e7e83;left:956.20px;width:600px;text-align:center;">12:30am</div>
<div class="t" style="top:274.98px;font:400 12px/16.8px 'Liberation Mono', monospace;color:#7e7e83;left:1011.60px;width:600px;text-align:center;">1:00am</div>
<div class="t" style="top:274.98px;font:400 12px/16.8px 'Liberation Mono', monospace;color:#7e7e83;left:1067.00px;width:600px;text-align:center;">1:30am</div>
<div class="t" style="top:274.98px;font:400 12px/16.8px 'Liberation Mono', monospace;color:#7e7e83;left:1122.40px;width:600px;text-align:center;">2:00am</div>
<div class="t" style="top:274.98px;font:400 12px/16.8px 'Liberation Mono', monospace;color:#7e7e83;left:1177.80px;width:600px;text-align:center;">2:30am</div>
<div class="t" style="top:274.98px;font:400 12px/16.8px 'Liberation Mono', monospace;color:#7e7e83;left:1233.20px;width:600px;text-align:center;">3:00am</div>
<div class="t" style="top:274.98px;font:400 12px/16.8px 'Liberation Mono', monospace;color:#7e7e83;left:1288.60px;width:600px;text-align:center;">3:30am</div>
<div class="t" style="top:274.98px;font:400 12px/16.8px 'Liberation Mono', monospace;color:#7e7e83;left:1344.00px;width:600px;text-align:center;">4:00am</div>
<div class="t" style="top:274.98px;font:400 12px/16.8px 'Liberation Mono', monospace;color:#7e7e83;left:1399.40px;width:600px;text-align:center;">4:30am</div>
<div class="t" style="top:274.98px;font:400 12px/16.8px 'Liberation Mono', monospace;color:#7e7e83;left:1454.80px;width:600px;text-align:center;">5:00am</div>
<div class="t" style="top:293.28px;font:400 12px/16.8px 'Liberation Mono', monospace;color:#7e7e83;left:236.00px;width:600px;text-align:center;">9/14/25</div>
<div class="t" style="top:293.28px;font:400 12px/16.8px 'Liberation Mono', monospace;color:#7e7e83;left:900.80px;width:600px;text-align:center;">9/15</div>
<div class="b" style="left:1542.60px;top:312.00px;width:21.80px;height:21.90px;background:#1f2026;border:1px solid #2b2c32;border-radius:3px;"></div>
<svg class="b" style="left:1551.60px;top:319.60px;" width="4" height="7" viewBox="0 0 4 7"><path d="M3.5 0.5 L0.6 3.5 L3.5 6.5" fill="none" stroke="#5b5d64" stroke-width="0.9"/></svg>
<div class="b" style="left:1572.50px;top:312.00px;width:21.90px;height:21.90px;background:#12bf8b;border-radius:3px;"></div>
<div class="t" style="top:314.75px;font:400 13px/18.2px 'Liberation Mono', monospace;color:#f6fffb;left:1283.45px;width:600px;text-align:center;">1</div>
<div class="b" style="left:1602.50px;top:312.00px;width:21.90px;height:21.90px;background:#25262b;border:1px solid #3b3c43;border-radius:3px;"></div>
<div class="t" style="top:314.75px;font:400 13px/18.2px 'Liberation Mono', monospace;color:#d4d4da;left:1313.45px;width:600px;text-align:center;">2</div>
<div class="b" style="left:1632.45px;top:312.00px;width:21.90px;height:21.90px;background:#25262b;border:1px solid #3b3c43;border-radius:3px;"></div>
<div class="t" style="top:314.75px;font:400 13px/18.2px 'Liberation Mono', monospace;color:#d4d4da;left:1343.40px;width:600px;text-align:center;">3</div>
<div class="b" style="left:1662.40px;top:312.00px;width:21.90px;height:21.90px;background:#25262b;border:1px solid #3b3c43;border-radius:3px;"></div>
<div class="t" style="top:314.75px;font:400 13px/18.2px 'Liberation Mono', monospace;color:#d4d4da;left:1373.35px;width:600px;text-align:center;">4</div>
<div class="b" style="left:1692.35px;top:312.00px;width:21.90px;height:21.90px;background:#25262b;border:1px solid #3b3c43;border-radius:3px;"></div>
<div class="t" style="top:314.75px;font:400 13px/18.2px 'Liberation Mono', monospace;color:#d4d4da;left:1403.30px;width:600px;text-align:center;">5</div>
<div class="b" style="left:1728.70px;top:322.20px;width:1.80px;height:1.80px;background:#e6e6ea;border-radius:50%;"></div>
<div class="b" style="left:1732.80px;top:322.20px;width:1.80px;height:1.80px;background:#e6e6ea;border-radius:50%;"></div>
<div class="b" style="left:1736.90px;top:322.20px;width:1.80px;height:1.80px;background:#e6e6ea;border-radius:50%;"></div>
<div class="b" style="left:1752.70px;top:312.00px;width:27.10px;height:21.90px;background:#25262b;border:1px solid #3b3c43;border-radius:3px;"></div>
<div class="t" style="top:314.75px;font:400 13px/18.2px 'Liberation Mono', monospace;color:#d4d4da;left:1466.25px;width:600px;text-align:center;">10</div>
<div class="b" style="left:1788.00px;top:312.00px;width:21.80px;height:21.90px;background:#25262b;border:1px solid #3b3c43;border-radius:3px;"></div>
<svg class="b" style="left:1797.00px;top:319.60px;" width="4" height="7" viewBox="0 0 4 7"><path d="M0.5 0.5 L3.4 3.5 L0.5 6.5" fill="none" stroke="#d2d2d8" stroke-width="0.9"/></svg>
<div class="t" style="top:350.88px;font:400 12px/16.8px 'Liberation Mono', monospace;color:#b5b5bc;left:355.70px;width:600px;text-align:center;">Events.Name[1]</div>
<div class="t" style="top:449.70px;font:400 11.5px/16.1px 'Liberation Mono', monospace;color:#7e7e83;right:1287.60px;">0</div>
<div class="t" style="top:427.27px;font:400 11.5px/16.1px 'Liberation Mono', monospace;color:#7e7e83;right:1287.60px;">20</div>
<div class="t" style="top:404.85px;font:400 11.5px/16.1px 'Liberation Mono', monospace;color:#7e7e83;right:1287.60px;">40</div>
<div class="t" style="top:367.80px;font:400 11.5px/16.1px 'Liberation Mono', monospace;color:#7e7e83;right:1287.60px;">80</div>
<div class="t" style="top:461.95px;font:400 10px/14.0px 'Liberation Mono', monospace;color:#7e7e83;left:522.56px;">Product Found</div>
<div class="t" style="top:461.95px;font:400 10px/14.0px 'Liberation Mono', monospace;color:#7e7e83;left:674.00px;">Sent</div>
<div class="t" style="top:461.95px;font:400 10px/14.0px 'Liberation Mono', monospace;color:#7e7e83;left:784.00px;">message</div>
<div class="t" style="top:350.88px;font:400 12px/16.8px 'Liberation Mono', monospace;color:#b5b5bc;left:711.70px;width:600px;text-align:center;">Events.Attributes[1].message.id</div>
<div class="t" style="top:449.70px;font:400 11.5px/16.1px 'Liberation Mono', monospace;color:#7e7e83;right:931.60px;">0</div>
<div class="t" style="top:427.27px;font:400 11.5px/16.1px 'Liberation Mono', monospace;color:#7e7e83;right:931.60px;">25</div>
<div class="t" style="top:404.85px;font:400 11.5px/16.1px 'Liberation Mono', monospace;color:#7e7e83;right:931.60px;">50</div>
<div class="t" style="top:367.80px;font:400 11.5px/16.1px 'Liberation Mono', monospace;color:#7e7e83;right:931.60px;">100</div>
<div class="t" style="top:461.95px;font:400 10px/14.0px 'Liberation Mono', monospace;color:#7e7e83;left:969.00px;">1</div>
<div class="t" style="top:461.95px;font:400 10px/14.0px 'Liberation Mono', monospace;color:#7e7e83;left:1109.00px;">2</div>
<div class="t" style="top:350.88px;font:400 12px/16.8px 'Liberation Mono', monospace;color:#b5b5bc;left:1067.70px;width:600px;text-align:center;">ResourceAttributes.host.name</div>
<div class="t" style="top:449.70px;font:400 11.5px/16.1px 'Liberation Mono', monospace;color:#7e7e83;right:575.60px;">0</div>
<div class="t" style="top:427.27px;font:400 11.5px/16.1px 'Liberation Mono', monospace;color:#7e7e83;right:575.60px;">25</div>
<div class="t" style="top:404.85px;font:400 11.5px/16.1px 'Liberation Mono', monospace;color:#7e7e83;right:575.60px;">50</div>
<div class="t" style="top:367.80px;font:400 11.5px/16.1px 'Liberation Mono', monospace;color:#7e7e83;right:575.60px;">100</div>
<div class="t" style="top:461.95px;font:400 10px/14.0px 'Liberation Mono', monospace;color:#7e7e83;left:1265.00px;">cart-7d958c4b68-gzp54</div>
<div class="t" style="top:461.95px;font:400 10px/14.0px 'Liberation Mono', monospace;color:#7e7e83;left:1406.00px;">quote-695bd5b9bf-rxxvs</div>
<div class="t" style="top:486.88px;font:400 12px/16.8px 'Liberation Mono', monospace;color:#b5b5bc;left:355.70px;width:600px;text-align:center;">SpanAttributes.server.port</div>
<div class="t" style="top:585.70px;font:400 11.5px/16.1px 'Liberation Mono', monospace;color:#7e7e83;right:1287.60px;">0</div>
<div class="t" style="top:563.27px;font:400 11.5px/16.1px 'Liberation Mono', monospace;color:#7e7e83;right:1287.60px;">25</div>
<div class="t" style="top:540.85px;font:400 11.5px/16.1px 'Liberation Mono', monospace;color:#7e7e83;right:1287.60px;">50</div>
<div class="t" style="top:503.80px;font:400 11.5px/16.1px 'Liberation Mono', monospace;color:#7e7e83;right:1287.60px;">100</div>
<div class="t" style="top:597.95px;font:400 10px/14.0px 'Liberation Mono', monospace;color:#7e7e83;left:580.67px;">6379</div>
<div class="t" style="top:597.95px;font:400 10px/14.0px 'Liberation Mono', monospace;color:#7e7e83;left:674.00px;">8013</div>
<div class="t" style="top:597.95px;font:400 10px/14.0px 'Liberation Mono', monospace;color:#7e7e83;left:767.33px;">8080</div>
<div class="t" style="top:486.88px;font:400 12px/16.8px 'Liberation Mono', monospace;color:#b5b5bc;left:711.70px;width:600px;text-align:center;">SpanAttributes.server.address</div>
<div class="t" style="top:585.70px;font:400 11.5px/16.1px 'Liberation Mono', monospace;color:#7e7e83;right:931.60px;">0</div>
<div class="t" style="top:563.27px;font:400 11.5px/16.1px 'Liberation Mono', monospace;color:#7e7e83;right:931.60px;">20</div>
<div class="t" style="top:540.85px;font:400 11.5px/16.1px 'Liberation Mono', monospace;color:#7e7e83;right:931.60px;">40</div>
<div class="t" style="top:503.80px;font:400 11.5px/16.1px 'Liberation Mono', monospace;color:#7e7e83;right:931.60px;">80</div>
<div class="t" style="top:597.95px;font:400 10px/14.0px 'Liberation Mono', monospace;color:#7e7e83;left:924.00px;">ad</div>
<div class="t" style="top:597.95px;font:400 10px/14.0px 'Liberation Mono', monospace;color:#7e7e83;left:974.00px;">cart</div>
<div class="t" style="top:597.95px;font:400 10px/14.0px 'Liberation Mono', monospace;color:#7e7e83;left:1027.00px;">flagd</div>
<div class="t" style="top:597.95px;font:400 10px/14.0px 'Liberation Mono', monospace;color:#7e7e83;left:1116.00px;">valkey-cart</div>
<div class="t" style="top:486.88px;font:400 12px/16.8px 'Liberation Mono', monospace;color:#b5b5bc;left:1067.70px;width:600px;text-align:center;">ResourceAttribu..runtime.version</div>
<div class="t" style="top:585.70px;font:400 11.5px/16.1px 'Liberation Mono', monospace;color:#7e7e83;right:575.60px;">0</div>
<div class="t" style="top:563.27px;font:400 11.5px/16.1px 'Liberation Mono', monospace;color:#7e7e83;right:575.60px;">25</div>
<div class="t" style="top:540.85px;font:400 11.5px/16.1px 'Liberation Mono', monospace;color:#7e7e83;right:575.60px;">50</div>
<div class="t" style="top:503.80px;font:400 11.5px/16.1px 'Liberation Mono', monospace;color:#7e7e83;right:575.60px;">100</div>
<div class="t" style="top:597.95px;font:400 10px/14.0px 'Liberation Mono', monospace;color:#7e7e83;left:1274.50px;">21.0.7+6-LTS</div>
<div class="t" style="top:597.95px;font:400 10px/14.0px 'Liberation Mono', monospace;color:#7e7e83;left:1365.50px;">3.2.2</div>
<div class="t" style="top:597.95px;font:400 10px/14.0px 'Liberation Mono', monospace;color:#7e7e83;left:1432.50px;">8.3.21</div>
<div class="t" style="top:597.95px;font:400 10px/14.0px 'Liberation Mono', monospace;color:#7e7e83;left:1490.00px;">go1.22.5</div>
<div class="t" style="top:622.88px;font:400 12px/16.8px 'Liberation Mono', monospace;color:#b5b5bc;left:355.70px;width:600px;text-align:center;">ResourceAttributes.process.pid</div>
<div class="t" style="top:721.70px;font:400 11.5px/16.1px 'Liberation Mono', monospace;color:#7e7e83;right:1287.60px;">0</div>
<div class="t" style="top:699.27px;font:400 11.5px/16.1px 'Liberation Mono', monospace;color:#7e7e83;right:1287.60px;">25</div>
<div class="t" style="top:676.85px;font:400 11.5px/16.1px 'Liberation Mono', monospace;color:#7e7e83;right:1287.60px;">50</div>
<div class="t" style="top:639.80px;font:400 11.5px/16.1px 'Liberation Mono', monospace;color:#7e7e83;right:1287.60px;">100</div>
<div class="t" style="top:733.95px;font:400 10px/14.0px 'Liberation Mono', monospace;color:#7e7e83;left:589.67px;">1</div>
<div class="t" style="top:733.95px;font:400 10px/14.0px 'Liberation Mono', monospace;color:#7e7e83;left:680.00px;">16</div>
<div class="t" style="top:733.95px;font:400 10px/14.0px 'Liberation Mono', monospace;color:#7e7e83;left:773.33px;">17</div>
<div class="t" style="top:622.88px;font:400 12px/16.8px 'Liberation Mono', monospace;color:#b5b5bc;left:711.70px;width:600px;text-align:center;">ResourceAttribu..ss.runtime.name</div>
<div class="t" style="top:721.70px;font:400 11.5px/16.1px 'Liberation Mono', monospace;color:#7e7e83;right:931.60px;">0</div>
<div class="t" style="top:699.27px;font:400 11.5px/16.1px 'Liberation Mono', monospace;color:#7e7e83;right:931.60px;">25</div>
<div class="t" style="top:676.85px;font:400 11.5px/16.1px 'Liberation Mono', monospace;color:#7e7e83;right:931.60px;">50</div>
<div class="t" style="top:639.80px;font:400 11.5px/16.1px 'Liberation Mono', monospace;color:#7e7e83;right:931.60px;">100</div>
<div class="t" style="top:733.95px;font:400 10px/14.0px 'Liberation Mono', monospace;color:#7e7e83;left:910.00px;">.NET</div>
<div class="t" style="top:733.95px;font:400 10px/14.0px 'Liberation Mono', monospace;color:#7e7e83;left:981.00px;">browser</div>
<div class="t" style="top:733.95px;font:400 10px/14.0px 'Liberation Mono', monospace;color:#7e7e83;left:1033.00px;">cli</div>
<div class="t" style="top:733.95px;font:400 10px/14.0px 'Liberation Mono', monospace;color:#7e7e83;left:1076.00px;">go</div>
<div class="t" style="top:733.95px;font:400 10px/14.0px 'Liberation Mono', monospace;color:#7e7e83;left:1104.00px;">nodejs</div>
<div class="t" style="top:733.95px;font:400 10px/14.0px 'Liberation Mono', monospace;color:#7e7e83;left:1150.00px;">ruby</div>
<div class="t" style="top:622.88px;font:400 12px/16.8px 'Liberation Mono', monospace;color:#b5b5bc;left:1067.70px;width:600px;text-align:center;">ResourceAttribu..ss.command_args</div>
<div class="t" style="top:721.70px;font:400 11.5px/16.1px 'Liberation Mono', monospace;color:#7e7e83;right:575.60px;">0</div>
<div class="t" style="top:699.27px;font:400 11.5px/16.1px 'Liberation Mono', monospace;color:#7e7e83;right:575.60px;">25</div>
<div class="t" style="top:676.85px;font:400 11.5px/16.1px 'Liberation Mono', monospace;color:#7e7e83;right:575.60px;">50</div>
<div class="t" style="top:639.80px;font:400 11.5px/16.1px 'Liberation Mono', monospace;color:#7e7e83;right:575.60px;">100</div>
<div class="t" style="top:733.95px;font:400 10px/14.0px 'Liberation Mono', monospace;color:#7e7e83;left:1307.00px;">["/app/shipping"]</div>
<div class="t" style="top:733.95px;font:400 10px/14.0px 'Liberation Mono', monospace;color:#7e7e83;left:1418.00px;">["public/index.php"]</div>
<div class="t" style="top:758.88px;font:400 12px/16.8px 'Liberation Mono', monospace;color:#b5b5bc;left:355.70px;width:600px;text-align:center;">SpanAttributes....sock.peer.port</div>
<div class="t" style="top:857.70px;font:400 11.5px/16.1px 'Liberation Mono', monospace;color:#7e7e83;right:1287.60px;">0</div>
<div class="t" style="top:835.27px;font:400 11.5px/16.1px 'Liberation Mono', monospace;color:#7e7e83;right:1287.60px;">15</div>
<div class="t" style="top:812.85px;font:400 11.5px/16.1px 'Liberation Mono', monospace;color:#7e7e83;right:1287.60px;">30</div>
<div class="t" style="top:775.80px;font:400 11.5px/16.1px 'Liberation Mono', monospace;color:#7e7e83;right:1287.60px;">60</div>
<div class="t" style="top:869.95px;font:400 10px/14.0px 'Liberation Mono', monospace;color:#7e7e83;left:559.00px;">39708</div>
<div class="t" style="top:869.95px;font:400 10px/14.0px 'Liberation Mono', monospace;color:#7e7e83;left:615.00px;">44852</div>
<div class="t" style="top:869.95px;font:400 10px/14.0px 'Liberation Mono', monospace;color:#7e7e83;left:671.00px;">54754</div>
<div class="t" style="top:869.95px;font:400 10px/14.0px 'Liberation Mono', monospace;color:#7e7e83;left:727.00px;">55568</div>
<div class="t" style="top:869.95px;font:400 10px/14.0px 'Liberation Mono', monospace;color:#7e7e83;left:786.00px;">8080</div>
<div class="t" style="top:758.88px;font:400 12px/16.8px 'Liberation Mono', monospace;color:#b5b5bc;left:711.70px;width:600px;text-align:center;">ResourceAttribu..ime.description</div>
<div class="t" style="top:857.70px;font:400 11.5px/16.1px 'Liberation Mono', monospace;color:#7e7e83;right:931.60px;">0</div>
<div class="t" style="top:835.27px;font:400 11.5px/16.1px 'Liberation Mono', monospace;color:#7e7e83;right:931.60px;">25</div>
<div class="t" style="top:812.85px;font:400 11.5px/16.1px 'Liberation Mono', monospace;color:#7e7e83;right:931.60px;">50</div>
<div class="t" style="top:775.80px;font:400 11.5px/16.1px 'Liberation Mono', monospace;color:#7e7e83;right:931.60px;">100</div>
<div class="t" style="top:869.95px;font:400 10px/14.0px 'Liberation Mono', monospace;color:#7e7e83;left:892.33px;">.NET 8.0.16</div>
<div class="t" style="top:869.95px;font:400 10px/14.0px 'Liberation Mono', monospace;color:#7e7e83;left:1044.33px;">Node.js</div>
<div class="t" style="top:758.88px;font:400 12px/16.8px 'Liberation Mono', monospace;color:#b5b5bc;left:1067.70px;width:600px;text-align:center;">ResourceAttributes.process.owner</div>
<div class="t" style="top:857.70px;font:400 11.5px/16.1px 'Liberation Mono', monospace;color:#7e7e83;right:575.60px;">0</div>
<div class="t" style="top:835.27px;font:400 11.5px/16.1px 'Liberation Mono', monospace;color:#7e7e83;right:575.60px;">25</div>
<div class="t" style="top:812.85px;font:400 11.5px/16.1px 'Liberation Mono', monospace;color:#7e7e83;right:575.60px;">50</div>
<div class="t" style="top:775.80px;font:400 11.5px/16.1px 'Liberation Mono', monospace;color:#7e7e83;right:575.60px;">100</div>
<div class="t" style="top:869.95px;font:400 10px/14.0px 'Liberation Mono', monospace;color:#7e7e83;left:1277.00px;">app</div>
<div class="t" style="top:869.95px;font:400 10px/14.0px 'Liberation Mono', monospace;color:#7e7e83;left:1324.00px;">nextjs</div>
<div class="t" style="top:869.95px;font:400 10px/14.0px 'Liberation Mono', monospace;color:#7e7e83;left:1386.00px;">node</div>
<div class="t" style="top:869.95px;font:400 10px/14.0px 'Liberation Mono', monospace;color:#7e7e83;left:1442.00px;">root</div>
<div class="t" style="top:869.95px;font:400 10px/14.0px 'Liberation Mono', monospace;color:#7e7e83;left:1486.00px;">www-data</div>
<svg class="b" style="left:0;top:0" width="1826" height="1150"><rect x="562.11" y="455.33" width="11" height="1.17" fill="#10d99e"/><rect x="593.22" y="452.73" width="11" height="3.77" fill="#10d99e"/><rect x="624.33" y="453.27" width="11" height="3.23" fill="#10d99e"/><rect x="655.44" y="454.17" width="11" height="2.33" fill="#10d99e"/><rect x="686.56" y="380.08" width="11" height="76.42" fill="#10d99e"/><rect x="717.67" y="454.80" width="11" height="1.70" fill="#10d99e"/><rect x="735.78" y="449.23" width="11" height="7.27" fill="#f8155a"/><rect x="748.78" y="455.96" width="11" height="0.54" fill="#10d99e"/><rect x="766.89" y="434.25" width="11" height="22.25" fill="#f8155a"/><rect x="779.89" y="451.57" width="11" height="4.93" fill="#10d99e"/><rect x="798.00" y="374.07" width="11" height="82.43" fill="#f8155a"/><rect x="811.00" y="439.28" width="11" height="17.22" fill="#10d99e"/><path d="M540.0 367.30 H546.0 V457.0 M540.0 457.0 H826.0" fill="none" stroke="#7b7b7d" stroke-width="1"/><line x1="540.0" y1="434.57" x2="546.0" y2="434.57" stroke="#7b7b7d" stroke-width="1"/><line x1="540.0" y1="412.15" x2="546.0" y2="412.15" stroke="#7b7b7d" stroke-width="1"/><line x1="561.56" y1="457.0" x2="561.56" y2="463.0" stroke="#7b7b7d" stroke-width="1"/><line x1="686.00" y1="457.0" x2="686.00" y2="463.0" stroke="#7b7b7d" stroke-width="1"/><line x1="810.44" y1="457.0" x2="810.44" y2="463.0" stroke="#7b7b7d" stroke-width="1"/><rect x="973.00" y="396.67" width="55" height="59.83" fill="#10d99e"/><rect x="1056.00" y="366.80" width="55" height="89.70" fill="#f8155a"/><rect x="1113.00" y="426.63" width="55" height="29.87" fill="#10d99e"/><path d="M896.0 367.30 H902.0 V457.0 M896.0 457.0 H1182.0" fill="none" stroke="#7b7b7d" stroke-width="1"/><line x1="896.0" y1="434.57" x2="902.0" y2="434.57" stroke="#7b7b7d" stroke-width="1"/><line x1="896.0" y1="412.15" x2="902.0" y2="412.15" stroke="#7b7b7d" stroke-width="1"/><line x1="972.00" y1="457.0" x2="972.00" y2="463.0" stroke="#7b7b7d" stroke-width="1"/><line x1="1112.00" y1="457.0" x2="1112.00" y2="463.0" stroke="#7b7b7d" stroke-width="1"/><rect x="1272.80" y="455.60" width="10" height="0.90" fill="#10d99e"/><rect x="1288.80" y="454.80" width="10" height="1.70" fill="#f8155a"/><rect x="1300.80" y="453.72" width="10" height="2.78" fill="#10d99e"/><rect x="1316.80" y="452.10" width="10" height="4.40" fill="#f8155a"/><rect x="1328.80" y="428.69" width="10" height="27.81" fill="#10d99e"/><rect x="1344.80" y="453.72" width="10" height="2.78" fill="#f8155a"/><rect x="1356.80" y="446.45" width="10" height="10.05" fill="#10d99e"/><rect x="1384.80" y="447.62" width="10" height="8.88" fill="#10d99e"/><rect x="1412.80" y="456.23" width="10" height="0.27" fill="#10d99e"/><rect x="1428.80" y="375.77" width="10" height="80.73" fill="#f8155a"/><rect x="1440.80" y="434.25" width="10" height="22.25" fill="#10d99e"/><rect x="1468.80" y="456.23" width="10" height="0.27" fill="#10d99e"/><rect x="1496.80" y="442.69" width="10" height="13.81" fill="#10d99e"/><rect x="1524.80" y="454.35" width="10" height="2.15" fill="#10d99e"/><path d="M1252.0 367.30 H1258.0 V457.0 M1252.0 457.0 H1538.0" fill="none" stroke="#7b7b7d" stroke-width="1"/><line x1="1252.0" y1="434.57" x2="1258.0" y2="434.57" stroke="#7b7b7d" stroke-width="1"/><line x1="1252.0" y1="412.15" x2="1258.0" y2="412.15" stroke="#7b7b7d" stroke-width="1"/><line x1="1328.00" y1="457.0" x2="1328.00" y2="463.0" stroke="#7b7b7d" stroke-width="1"/><line x1="1524.00" y1="457.0" x2="1524.00" y2="463.0" stroke="#7b7b7d" stroke-width="1"/><rect x="593.33" y="538.77" width="36" height="53.73" fill="#10d99e"/><rect x="686.67" y="589.45" width="36" height="3.05" fill="#10d99e"/><rect x="742.00" y="502.80" width="36" height="89.70" fill="#f8155a"/><rect x="780.00" y="559.76" width="36" height="32.74" fill="#10d99e"/><path d="M540.0 503.30 H546.0 V593.0 M540.0 593.0 H826.0" fill="none" stroke="#7b7b7d" stroke-width="1"/><line x1="540.0" y1="570.58" x2="546.0" y2="570.58" stroke="#7b7b7d" stroke-width="1"/><line x1="540.0" y1="548.15" x2="546.0" y2="548.15" stroke="#7b7b7d" stroke-width="1"/><line x1="592.67" y1="593.0" x2="592.67" y2="599.0" stroke="#7b7b7d" stroke-width="1"/><line x1="686.00" y1="593.0" x2="686.00" y2="599.0" stroke="#7b7b7d" stroke-width="1"/><line x1="779.33" y1="593.0" x2="779.33" y2="599.0" stroke="#7b7b7d" stroke-width="1"/><rect x="907.60" y="558.32" width="21" height="34.18" fill="#f8155a"/><rect x="930.60" y="587.66" width="21" height="4.84" fill="#10d99e"/><rect x="963.60" y="514.55" width="21" height="77.95" fill="#f8155a"/><rect x="986.60" y="558.68" width="21" height="33.82" fill="#10d99e"/><rect x="1042.60" y="588.73" width="21" height="3.77" fill="#10d99e"/><rect x="1098.60" y="590.44" width="21" height="2.06" fill="#10d99e"/><rect x="1154.60" y="525.40" width="21" height="67.10" fill="#10d99e"/><path d="M896.0 503.30 H902.0 V593.0 M896.0 593.0 H1182.0" fill="none" stroke="#7b7b7d" stroke-width="1"/><line x1="896.0" y1="570.58" x2="902.0" y2="570.58" stroke="#7b7b7d" stroke-width="1"/><line x1="896.0" y1="548.15" x2="902.0" y2="548.15" stroke="#7b7b7d" stroke-width="1"/><line x1="930.00" y1="593.0" x2="930.00" y2="599.0" stroke="#7b7b7d" stroke-width="1"/><line x1="986.00" y1="593.0" x2="986.00" y2="599.0" stroke="#7b7b7d" stroke-width="1"/><line x1="1042.00" y1="593.0" x2="1042.00" y2="599.0" stroke="#7b7b7d" stroke-width="1"/><line x1="1154.00" y1="593.0" x2="1154.00" y2="599.0" stroke="#7b7b7d" stroke-width="1"/><rect x="1276.50" y="592.23" width="13" height="0.27" fill="#10d99e"/><rect x="1296.50" y="590.62" width="13" height="1.88" fill="#f8155a"/><rect x="1311.50" y="588.73" width="13" height="3.77" fill="#10d99e"/><rect x="1331.50" y="507.64" width="13" height="84.86" fill="#f8155a"/><rect x="1346.50" y="561.19" width="13" height="31.31" fill="#10d99e"/><rect x="1381.50" y="588.73" width="13" height="3.77" fill="#10d99e"/><rect x="1416.50" y="591.15" width="13" height="1.35" fill="#10d99e"/><rect x="1451.50" y="589.63" width="13" height="2.87" fill="#10d99e"/><rect x="1471.50" y="589.63" width="13" height="2.87" fill="#f8155a"/><rect x="1486.50" y="559.31" width="13" height="33.19" fill="#10d99e"/><rect x="1521.50" y="580.30" width="13" height="12.20" fill="#10d99e"/><path d="M1252.0 503.30 H1258.0 V593.0 M1252.0 593.0 H1538.0" fill="none" stroke="#7b7b7d" stroke-width="1"/><line x1="1252.0" y1="570.58" x2="1258.0" y2="570.58" stroke="#7b7b7d" stroke-width="1"/><line x1="1252.0" y1="548.15" x2="1258.0" y2="548.15" stroke="#7b7b7d" stroke-width="1"/><line x1="1310.50" y1="593.0" x2="1310.50" y2="599.0" stroke="#7b7b7d" stroke-width="1"/><line x1="1380.50" y1="593.0" x2="1380.50" y2="599.0" stroke="#7b7b7d" stroke-width="1"/><line x1="1450.50" y1="593.0" x2="1450.50" y2="599.0" stroke="#7b7b7d" stroke-width="1"/><line x1="1520.50" y1="593.0" x2="1520.50" y2="599.0" stroke="#7b7b7d" stroke-width="1"/><rect x="555.33" y="723.57" width="36" height="4.93" fill="#f8155a"/><rect x="593.33" y="674.05" width="36" height="54.45" fill="#10d99e"/><rect x="648.67" y="643.64" width="36" height="84.86" fill="#f8155a"/><rect x="686.67" y="693.88" width="36" height="34.62" fill="#10d99e"/><rect x="780.00" y="728.23" width="36" height="0.27" fill="#10d99e"/><path d="M540.0 639.30 H546.0 V729.0 M540.0 729.0 H826.0" fill="none" stroke="#7b7b7d" stroke-width="1"/><line x1="540.0" y1="706.58" x2="546.0" y2="706.58" stroke="#7b7b7d" stroke-width="1"/><line x1="540.0" y1="684.15" x2="546.0" y2="684.15" stroke="#7b7b7d" stroke-width="1"/><line x1="592.67" y1="729.0" x2="592.67" y2="735.0" stroke="#7b7b7d" stroke-width="1"/><line x1="686.00" y1="729.0" x2="686.00" y2="735.0" stroke="#7b7b7d" stroke-width="1"/><line x1="779.33" y1="729.0" x2="779.33" y2="735.0" stroke="#7b7b7d" stroke-width="1"/><rect x="923.00" y="727.06" width="15" height="1.44" fill="#10d99e"/><rect x="946.00" y="726.62" width="15" height="1.88" fill="#f8155a"/><rect x="963.00" y="723.66" width="15" height="4.84" fill="#10d99e"/><rect x="986.00" y="728.23" width="15" height="0.27" fill="#f8155a"/><rect x="1003.00" y="726.35" width="15" height="2.15" fill="#10d99e"/><rect x="1043.00" y="725.18" width="15" height="3.32" fill="#10d99e"/><rect x="1066.00" y="725.72" width="15" height="2.78" fill="#f8155a"/><rect x="1083.00" y="690.92" width="15" height="37.58" fill="#10d99e"/><rect x="1106.00" y="643.73" width="15" height="84.77" fill="#f8155a"/><rect x="1123.00" y="693.25" width="15" height="35.25" fill="#10d99e"/><rect x="1163.00" y="724.28" width="15" height="4.22" fill="#10d99e"/><path d="M896.0 639.30 H902.0 V729.0 M896.0 729.0 H1182.0" fill="none" stroke="#7b7b7d" stroke-width="1"/><line x1="896.0" y1="706.58" x2="902.0" y2="706.58" stroke="#7b7b7d" stroke-width="1"/><line x1="896.0" y1="684.15" x2="902.0" y2="684.15" stroke="#7b7b7d" stroke-width="1"/><line x1="922.00" y1="729.0" x2="922.00" y2="735.0" stroke="#7b7b7d" stroke-width="1"/><line x1="1002.00" y1="729.0" x2="1002.00" y2="735.0" stroke="#7b7b7d" stroke-width="1"/><line x1="1042.00" y1="729.0" x2="1042.00" y2="735.0" stroke="#7b7b7d" stroke-width="1"/><line x1="1082.00" y1="729.0" x2="1082.00" y2="735.0" stroke="#7b7b7d" stroke-width="1"/><line x1="1122.00" y1="729.0" x2="1122.00" y2="735.0" stroke="#7b7b7d" stroke-width="1"/><line x1="1162.00" y1="729.0" x2="1162.00" y2="735.0" stroke="#7b7b7d" stroke-width="1"/><rect x="1262.00" y="725.63" width="15" height="2.87" fill="#f8155a"/><rect x="1279.00" y="710.74" width="15" height="17.76" fill="#10d99e"/><rect x="1319.00" y="704.19" width="15" height="24.31" fill="#10d99e"/><rect x="1359.00" y="725.45" width="15" height="3.05" fill="#10d99e"/><rect x="1399.00" y="728.23" width="15" height="0.27" fill="#10d99e"/><rect x="1422.00" y="641.67" width="15" height="86.83" fill="#f8155a"/><rect x="1439.00" y="689.21" width="15" height="39.29" fill="#10d99e"/><rect x="1479.00" y="728.23" width="15" height="0.27" fill="#10d99e"/><rect x="1519.00" y="724.73" width="15" height="3.77" fill="#10d99e"/><path d="M1252.0 639.30 H1258.0 V729.0 M1252.0 729.0 H1538.0" fill="none" stroke="#7b7b7d" stroke-width="1"/><line x1="1252.0" y1="706.58" x2="1258.0" y2="706.58" stroke="#7b7b7d" stroke-width="1"/><line x1="1252.0" y1="684.15" x2="1258.0" y2="684.15" stroke="#7b7b7d" stroke-width="1"/><line x1="1358.00" y1="729.0" x2="1358.00" y2="735.0" stroke="#7b7b7d" stroke-width="1"/><line x1="1518.00" y1="729.0" x2="1518.00" y2="735.0" stroke="#7b7b7d" stroke-width="1"/><rect x="574.60" y="855.35" width="21" height="9.15" fill="#10d99e"/><rect x="630.60" y="856.34" width="21" height="8.16" fill="#10d99e"/><rect x="686.60" y="786.01" width="21" height="78.49" fill="#10d99e"/><rect x="719.60" y="800.27" width="21" height="64.23" fill="#f8155a"/><rect x="742.60" y="861.63" width="21" height="2.87" fill="#10d99e"/><rect x="775.60" y="778.75" width="21" height="85.75" fill="#f8155a"/><rect x="798.60" y="814.00" width="21" height="50.50" fill="#10d99e"/><path d="M540.0 775.30 H546.0 V865.0 M540.0 865.0 H826.0" fill="none" stroke="#7b7b7d" stroke-width="1"/><line x1="540.0" y1="842.58" x2="546.0" y2="842.58" stroke="#7b7b7d" stroke-width="1"/><line x1="540.0" y1="820.15" x2="546.0" y2="820.15" stroke="#7b7b7d" stroke-width="1"/><line x1="574.00" y1="865.0" x2="574.00" y2="871.0" stroke="#7b7b7d" stroke-width="1"/><line x1="630.00" y1="865.0" x2="630.00" y2="871.0" stroke="#7b7b7d" stroke-width="1"/><line x1="686.00" y1="865.0" x2="686.00" y2="871.0" stroke="#7b7b7d" stroke-width="1"/><line x1="742.00" y1="865.0" x2="742.00" y2="871.0" stroke="#7b7b7d" stroke-width="1"/><line x1="798.00" y1="865.0" x2="798.00" y2="871.0" stroke="#7b7b7d" stroke-width="1"/><rect x="925.67" y="862.89" width="17" height="1.61" fill="#10d99e"/><rect x="972.33" y="864.23" width="17" height="0.27" fill="#10d99e"/><rect x="1000.00" y="862.62" width="17" height="1.88" fill="#f8155a"/><rect x="1019.00" y="859.84" width="17" height="4.66" fill="#10d99e"/><rect x="1046.67" y="779.64" width="17" height="84.86" fill="#f8155a"/><rect x="1065.67" y="826.65" width="17" height="37.85" fill="#10d99e"/><rect x="1093.33" y="861.72" width="17" height="2.78" fill="#f8155a"/><rect x="1112.33" y="824.31" width="17" height="40.19" fill="#10d99e"/><rect x="1159.00" y="859.84" width="17" height="4.66" fill="#10d99e"/><path d="M896.0 775.30 H902.0 V865.0 M896.0 865.0 H1182.0" fill="none" stroke="#7b7b7d" stroke-width="1"/><line x1="896.0" y1="842.58" x2="902.0" y2="842.58" stroke="#7b7b7d" stroke-width="1"/><line x1="896.0" y1="820.15" x2="902.0" y2="820.15" stroke="#7b7b7d" stroke-width="1"/><line x1="925.33" y1="865.0" x2="925.33" y2="871.0" stroke="#7b7b7d" stroke-width="1"/><line x1="1065.33" y1="865.0" x2="1065.33" y2="871.0" stroke="#7b7b7d" stroke-width="1"/><rect x="1286.60" y="862.89" width="21" height="1.61" fill="#10d99e"/><rect x="1319.60" y="777.67" width="21" height="86.83" fill="#f8155a"/><rect x="1342.60" y="824.31" width="21" height="40.19" fill="#10d99e"/><rect x="1398.60" y="864.23" width="21" height="0.27" fill="#10d99e"/><rect x="1431.60" y="861.63" width="21" height="2.87" fill="#f8155a"/><rect x="1454.60" y="821.35" width="21" height="43.15" fill="#10d99e"/><rect x="1510.60" y="860.73" width="21" height="3.77" fill="#10d99e"/><path d="M1252.0 775.30 H1258.0 V865.0 M1252.0 865.0 H1538.0" fill="none" stroke="#7b7b7d" stroke-width="1"/><line x1="1252.0" y1="842.58" x2="1258.0" y2="842.58" stroke="#7b7b7d" stroke-width="1"/><line x1="1252.0" y1="820.15" x2="1258.0" y2="820.15" stroke="#7b7b7d" stroke-width="1"/><line x1="1286.00" y1="865.0" x2="1286.00" y2="871.0" stroke="#7b7b7d" stroke-width="1"/><line x1="1342.00" y1="865.0" x2="1342.00" y2="871.0" stroke="#7b7b7d" stroke-width="1"/><line x1="1398.00" y1="865.0" x2="1398.00" y2="871.0" stroke="#7b7b7d" stroke-width="1"/><line x1="1454.00" y1="865.0" x2="1454.00" y2="871.0" stroke="#7b7b7d" stroke-width="1"/><line x1="1510.00" y1="865.0" x2="1510.00" y2="871.0" stroke="#7b7b7d" stroke-width="1"/></svg>
</div><div id="frame"></div></div></body></html>
